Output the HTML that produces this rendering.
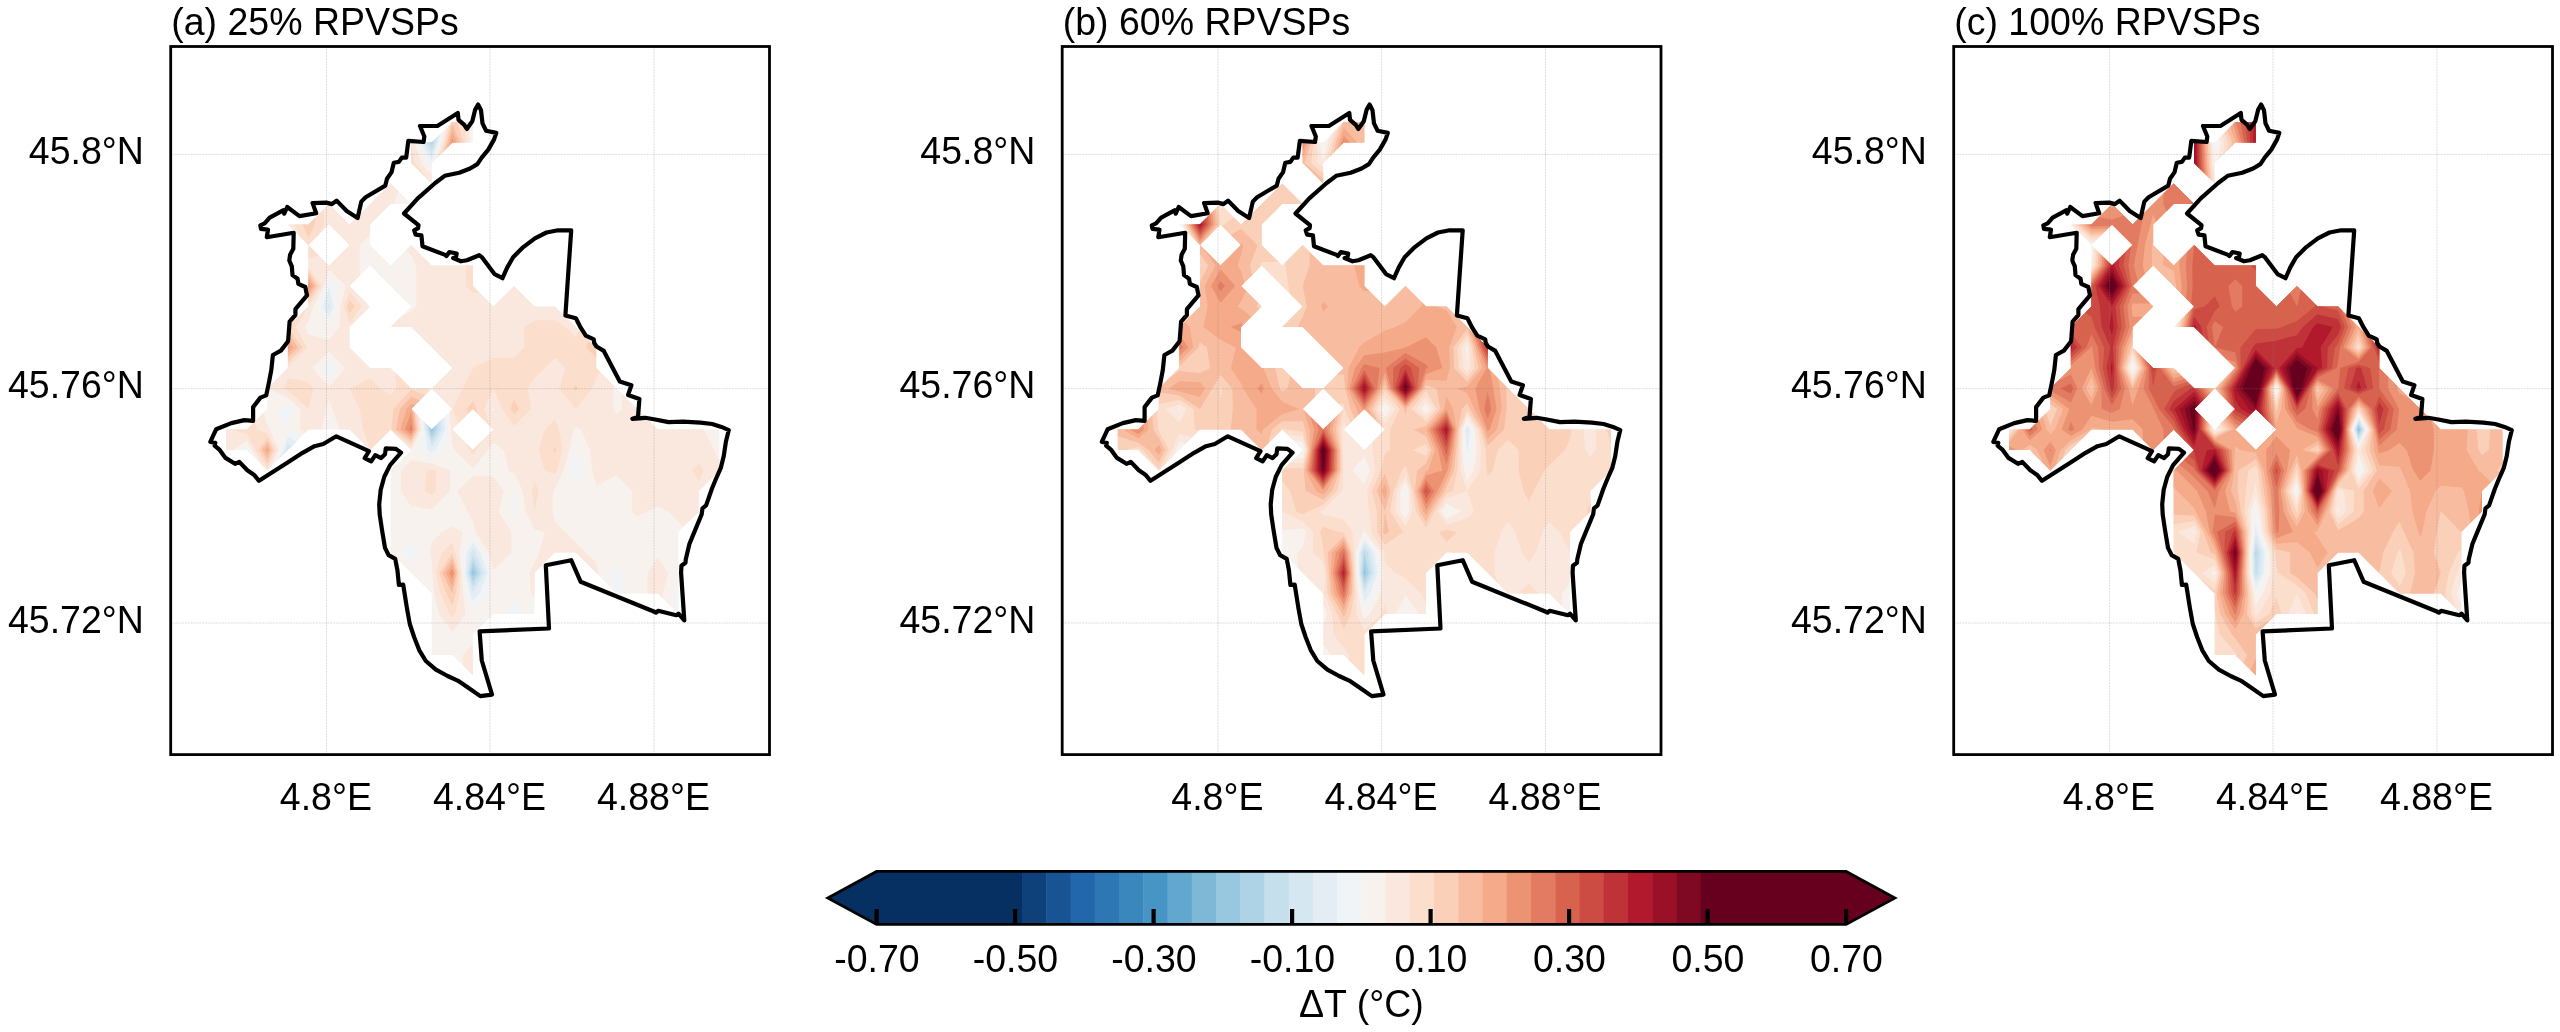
<!DOCTYPE html>
<html><head><meta charset="utf-8"><title>RPVSP temperature change</title>
<style>
html,body{margin:0;padding:0;background:#fff;}
body{width:2560px;height:1032px;position:relative;overflow:hidden;}
svg{will-change:transform;}
.t{font-family:"Liberation Sans",sans-serif;font-size:37.5px;fill:#000;}
</style></head><body>
<svg width="2560" height="1032" viewBox="0 0 2560 1032" style="position:absolute;left:0;top:0">
<rect width="2560" height="1032" fill="#fff"/>
<g shape-rendering="geometricPrecision">
<path d="M452.3 122.1L472.9 122.1L472.9 142.6L452.3 142.6L431.8 163.1L431.8 183.6L411.2 163.1L411.2 142.6L431.8 142.6ZM390.6 183.6L411.2 204.1L390.6 204.1L370.1 224.6L370.1 245.1L390.6 265.6L411.2 245.1L431.8 265.6L452.3 265.6L472.9 265.6L472.9 286.0L493.4 306.5L514.0 286.0L534.5 306.5L555.0 306.5L575.6 327.0L596.2 347.5L596.2 368.0L616.7 388.5L637.2 409.0L657.8 429.5L678.4 429.5L698.9 429.5L719.5 429.5L719.5 450.0L719.5 470.4L698.9 490.9L698.9 511.4L678.4 531.9L678.4 552.4L678.4 572.9L678.4 593.4L678.4 613.9L657.8 593.4L637.2 593.4L616.7 593.4L596.2 572.9L575.6 552.4L555.0 552.4L534.5 572.9L534.5 593.4L534.5 613.9L514.0 613.9L493.4 613.9L472.9 634.4L472.9 654.9L472.9 675.3L452.3 654.9L431.8 654.9L431.8 634.4L431.8 613.9L431.8 593.4L411.2 572.9L390.6 552.4L390.6 531.9L390.6 511.4L390.6 490.9L390.6 470.4L411.2 450.0L390.6 429.5L370.1 450.0L349.6 429.5L329.0 429.5L308.4 429.5L287.9 450.0L267.4 470.4L246.8 450.0L226.2 450.0L226.2 429.5L246.8 429.5L267.4 409.0L267.4 388.5L287.9 368.0L287.9 347.5L287.9 327.0L308.4 306.5L308.4 286.0L308.4 265.6L308.4 245.1L329.0 265.6L349.6 245.1L329.0 224.6L308.4 245.1L287.9 224.6L308.4 224.6L329.0 204.1L349.6 224.6L370.1 204.1ZM349.6 286.0L370.1 306.5L349.6 327.0L349.6 347.5L370.1 368.0L390.6 368.0L411.2 388.5L431.8 388.5L411.2 409.0L431.8 429.5L452.3 409.0L431.8 388.5L452.3 368.0L431.8 347.5L411.2 327.0L390.6 327.0L411.2 306.5L390.6 286.0L370.1 265.6ZM452.3 429.5L472.9 450.0L493.4 429.5L472.9 409.0Z" fill="#f8f2ef"/>
<path d="M452.3 122.1L470.0 122.1L469.7 142.6L452.3 142.6L436.3 158.6L442.0 142.6L445.6 128.8ZM421.5 163.1L431.8 175.6L431.8 183.6L411.2 163.1L411.2 142.6L414.3 142.6ZM390.6 183.6L398.4 191.3L394.1 204.1L390.6 204.1L370.1 224.6L370.1 234.8L359.8 245.1L359.8 265.6L359.8 275.8L349.6 286.0L365.0 301.4L369.1 306.5L366.7 309.9L349.6 327.0L349.6 347.5L370.1 368.0L390.6 368.0L411.2 388.5L431.8 388.5L411.2 409.0L419.7 417.4L421.3 429.5L411.2 449.5L409.7 448.5L390.6 429.5L370.1 450.0L349.6 429.5L339.3 429.5L332.4 409.0L329.0 398.7L326.4 409.0L321.3 429.5L308.4 429.5L305.2 432.7L299.9 429.5L300.5 409.0L287.9 397.7L269.4 388.5L270.8 385.1L287.9 368.0L287.9 347.5L287.9 327.0L308.4 306.5L308.4 286.0L308.4 265.6L308.4 245.1L329.0 265.6L349.6 245.1L329.0 224.6L308.4 245.1L287.9 224.6L308.4 224.6L329.0 204.1L349.6 224.6L370.1 204.1ZM324.1 286.0L313.2 306.5L308.4 320.9L304.6 327.0L308.4 334.7L329.0 339.8L339.3 327.0L340.3 306.5L345.7 286.0L329.0 269.4ZM312.3 368.0L329.0 387.0L345.7 368.0L329.0 351.4ZM411.2 245.1L431.8 265.6L452.3 265.6L472.9 265.6L472.9 286.0L493.4 306.5L514.0 286.0L534.5 306.5L555.0 306.5L575.6 327.0L596.2 347.5L596.2 368.0L614.6 386.4L613.3 388.5L613.3 409.0L616.7 414.1L621.8 409.0L621.8 393.6L637.2 409.0L657.8 429.5L678.4 429.5L698.9 429.5L704.0 429.5L714.3 450.0L719.5 460.2L719.5 470.4L698.9 490.9L698.9 511.4L683.5 526.8L678.4 521.7L668.1 511.4L657.8 506.3L647.5 511.4L637.2 516.6L632.1 511.4L632.1 490.9L616.7 475.6L596.2 485.8L592.3 470.4L590.0 450.0L580.7 429.5L575.6 426.9L573.5 429.5L569.1 450.0L563.5 470.5L555.0 488.9L553.0 490.9L552.5 511.4L555.0 521.7L565.3 531.9L575.6 542.2L585.9 552.4L596.2 562.7L598.2 572.9L598.2 574.9L596.2 572.9L575.6 552.4L555.0 552.4L534.5 572.9L534.5 593.4L534.5 598.5L531.1 593.4L529.4 572.9L534.5 562.7L539.6 552.4L544.8 531.9L534.5 529.4L525.5 511.4L522.9 490.9L514.0 473.0L508.8 470.4L503.7 450.0L493.4 442.3L488.3 450.0L472.9 468.4L454.4 450.0L452.3 444.8L451.1 429.5L449.6 411.6L452.3 409.0L431.8 388.5L452.3 368.0L431.8 347.5L411.2 327.0L390.6 327.0L400.9 316.8L411.2 311.7L416.3 306.5L416.3 286.0L416.3 265.6L411.2 255.3L406.1 250.2ZM492.3 409.0L493.4 412.4L494.5 409.0L493.4 406.4ZM452.3 429.5L472.9 450.0L493.4 429.5L472.9 409.0ZM267.4 424.3L269.9 429.5L278.7 450.0L270.6 467.2L267.4 470.4L260.9 464.0L251.9 450.0L246.8 440.6L232.7 450.0L226.2 450.0L226.2 429.5L246.8 429.5L263.5 412.8ZM411.2 460.2L431.8 463.4L450.2 470.4L450.2 490.9L431.8 509.4L411.2 506.3L400.9 490.9L400.9 470.4ZM472.9 475.6L493.4 476.6L503.7 490.9L498.5 511.4L511.4 531.9L511.4 552.4L493.4 570.3L488.9 552.4L475.4 531.9L472.9 521.7L467.7 511.4L457.4 490.9ZM452.3 526.8L462.6 531.9L459.3 552.4L461.9 572.9L463.1 593.4L465.5 613.9L452.3 632.3L439.1 613.9L434.3 593.4L432.2 572.9L431.8 562.7L430.0 552.4L431.8 542.2L442.0 531.9ZM657.8 557.5L668.1 572.9L662.9 593.4L662.9 598.5L657.8 593.4L647.5 593.4L647.5 572.9ZM472.9 644.6L472.9 654.9L472.9 675.3L462.6 665.1L462.6 654.9Z" fill="#fae8de"/>
<path d="M452.3 122.1L463.5 122.1L466.6 142.6L452.3 142.6L439.1 155.7L443.9 142.6L448.0 126.4ZM414.9 163.1L431.8 183.6L431.8 183.6L411.2 163.1L411.2 142.6L411.2 142.6ZM323.9 224.6L318.7 234.8L308.4 245.1L300.2 236.9L294.8 224.6L308.4 224.6L323.9 209.2ZM308.4 245.1L318.7 255.3L308.4 258.7ZM321.4 286.0L308.4 306.5L308.4 306.5L295.6 327.0L307.2 347.5L287.9 366.7L287.9 347.5L287.9 327.0L308.4 306.5L308.4 286.0L308.4 266.7ZM472.9 265.6L472.9 286.0L479.7 292.9L472.9 292.9L466.0 286.0L466.0 265.6ZM349.6 291.2L361.9 306.5L349.6 324.1L343.7 306.5ZM534.5 320.2L555.0 320.2L565.3 327.0L575.6 337.3L578.5 329.9L596.2 347.5L596.2 368.0L600.3 372.1L596.2 378.2L592.0 388.5L575.6 409.0L575.6 409.0L575.6 409.0L559.2 388.5L565.3 368.0L555.0 357.8L544.8 368.0L534.5 378.2L527.7 388.5L531.1 409.0L514.0 426.1L502.5 409.0L493.4 388.5L484.3 409.0L490.0 426.1L472.9 409.0L458.2 423.6L452.3 409.0L452.3 409.0L452.3 409.0L452.3 409.0L452.3 409.0L462.6 388.5L472.8 368.0L472.9 368.0L493.4 357.8L514.0 357.8L524.2 347.5L524.2 327.0ZM287.9 378.2L308.4 381.7L313.6 388.5L308.5 409.0L308.4 409.0L308.4 409.0L287.9 390.5L283.8 388.5ZM349.6 388.5L370.1 378.2L380.4 388.5L390.6 395.3L395.8 388.5L395.8 373.1L411.2 388.5L426.6 388.5L430.3 390.0L411.2 409.0L417.9 415.6L419.7 429.5L411.2 446.4L399.5 438.3L390.6 429.5L370.1 450.0L370.1 450.0L363.2 429.5L359.8 409.0L349.6 388.5L349.5 388.5ZM257.1 429.5L267.4 433.3L276.3 450.0L267.4 469.0L255.2 450.0L246.8 434.6L231.4 429.5L246.8 429.5L254.5 421.8ZM555.0 419.2L559.2 429.5L562.5 450.0L556.9 470.4L555.0 474.5L544.8 470.4L538.6 450.0L544.8 429.5ZM466.0 443.1L472.9 450.0L483.1 439.7L476.3 450.0L472.9 454.1L468.7 450.0ZM431.8 468.9L435.9 470.4L435.9 490.9L431.7 495.0L424.9 490.9L426.6 470.4ZM698.9 463.6L704.0 470.4L698.9 480.7L692.1 470.4ZM493.4 490.9L493.4 490.9L493.4 490.9L493.4 490.9ZM534.5 480.7L538.6 490.9L534.5 511.4L534.5 511.4L534.5 511.4L531.9 490.9ZM493.4 531.9L493.4 531.9L493.4 552.4L493.4 552.4L493.4 552.4L493.4 531.9ZM452.3 542.2L455.5 552.4L460.2 572.9L459.5 593.4L455.2 613.9L452.3 618.0L449.4 613.9L440.3 593.4L435.7 572.9L442.0 552.4Z" fill="#fcdecd"/>
<path d="M452.3 122.1L457.0 122.1L463.5 142.6L452.3 142.6L442.0 152.9L445.7 142.6L450.5 123.9ZM314.9 224.6L308.4 237.4L302.7 224.6L308.4 224.6L314.9 218.2ZM318.7 286.0L308.4 302.3L308.4 286.0L308.4 270.7ZM349.6 300.1L354.7 306.5L349.6 313.8L347.1 306.5ZM302.7 347.5L287.9 362.2L287.9 347.5L287.9 327.9ZM588.8 340.2L596.2 347.5L596.2 357.8L585.9 347.5ZM575.6 385.1L577.7 388.5L575.6 391.1L573.5 388.5ZM411.2 389.5L425.1 395.1L411.2 409.0L416.1 413.8L418.1 429.5L411.2 443.3L391.3 429.5L393.5 409.0ZM472.9 401.3L476.3 409.0L478.0 414.1L472.9 409.0L468.4 413.4L466.7 409.0ZM514.0 398.7L519.1 409.0L514.0 414.1L510.5 409.0ZM267.4 437.8L273.9 450.0L267.4 463.9L258.5 450.0ZM555.0 446.5L556.0 450.0L555.0 453.4L553.0 450.0ZM452.3 553.1L458.6 572.9L455.9 593.4L452.3 605.3L446.3 593.4L439.1 572.9Z" fill="#fbd0b9"/>
<path d="M452.3 124.2L460.3 142.6L452.3 142.6L444.9 150.0L447.6 142.6ZM316.1 286.0L308.4 298.1L308.4 286.0L308.4 274.7ZM298.2 347.5L287.9 357.8L287.9 347.5L287.9 333.8ZM411.2 396.7L420.0 400.2L411.2 409.0L414.3 412.1L416.6 429.5L411.2 440.2L395.8 429.5L400.0 409.0ZM267.4 442.3L271.5 450.0L267.4 458.7L261.7 450.0ZM452.3 558.3L457.0 572.9L452.3 593.4L452.3 593.4L452.3 593.4L442.5 572.9Z" fill="#f8bda1"/>
<path d="M452.3 131.3L457.2 142.6L452.3 142.6L447.8 147.1L449.4 142.6ZM313.4 286.0L308.4 293.9L308.4 286.0L308.4 278.6ZM293.7 347.5L287.9 353.3L287.9 347.5L287.9 339.8ZM411.2 403.9L414.9 405.3L411.2 409.0L412.5 410.3L415.0 429.5L411.2 437.0L400.3 429.5L406.5 409.0ZM267.4 446.8L269.1 450.0L267.4 453.6L265.0 450.0ZM452.3 563.4L455.3 572.9L452.3 586.2L445.9 572.9Z" fill="#f5aa89"/>
<path d="M452.3 138.5L454.1 142.6L452.3 142.6L450.7 144.2L451.2 142.6ZM310.7 286.0L308.4 289.7L308.4 286.0L308.4 282.6ZM289.2 347.5L287.9 348.8L287.9 347.5L287.9 345.8ZM411.2 412.4L413.4 429.5L411.2 433.9L404.8 429.5ZM452.3 568.5L453.7 572.9L452.3 579.0L449.4 572.9Z" fill="#ec9374"/>
<path d="M411.2 424.3L411.9 429.5L411.2 430.8L409.3 429.5Z" fill="#e27b62"/>
<path d="M440.2 142.6L433.4 161.5L431.8 163.1L431.8 167.7L428.0 163.1L417.5 142.6L431.8 142.6L443.1 131.3ZM329.0 278.4L336.7 286.0L336.8 306.5L329.0 324.7L318.0 306.5L326.7 286.0ZM329.0 360.3L336.7 368.0L329.0 376.8L321.3 368.0ZM287.9 404.9L292.5 409.0L287.9 429.5L277.6 409.0ZM421.5 419.2L431.8 429.5L447.0 414.3L448.2 429.5L444.6 450.0L431.8 457.8L418.9 450.0L422.8 429.5ZM246.8 446.5L248.7 450.0L251.9 455.1L246.8 450.0L241.7 450.0ZM287.9 429.5L300.7 437.2L287.9 450.0L275.1 462.8L281.1 450.0ZM575.6 450.0L583.3 470.4L575.6 485.8L570.0 470.4ZM514.0 490.9L516.5 511.4L514.0 516.6L510.5 511.4ZM411.2 542.2L418.1 552.4L411.2 562.7L400.9 552.4ZM472.9 537.0L484.4 552.4L490.7 572.9L488.3 593.4L472.9 611.0L466.7 593.4L463.5 572.9L463.1 552.4ZM616.7 566.1L623.5 572.9L623.5 593.4L616.7 593.4L612.6 589.3L612.6 572.9ZM678.4 586.6L678.4 593.4L678.4 613.9L674.9 610.5L674.9 593.4ZM514.0 600.2L524.2 613.9L514.0 613.9L503.7 613.9Z" fill="#f0f4f6"/>
<path d="M438.3 142.6L431.8 160.9L420.6 142.6L431.8 142.6L440.6 133.8ZM329.0 288.1L333.4 306.5L329.0 316.8L322.8 306.5ZM423.3 421.0L431.8 429.5L444.3 416.9L445.3 429.5L435.6 450.0L431.8 452.3L427.9 450.0L424.4 429.5ZM287.9 436.6L296.2 441.6L287.9 450.0L279.6 458.3L283.4 450.0ZM472.9 543.0L479.9 552.4L487.6 572.9L479.3 593.4L472.9 600.7L470.3 593.4L465.1 572.9L466.9 552.4Z" fill="#e3edf3"/>
<path d="M436.5 142.6L431.8 155.8L423.7 142.6L431.8 142.6L438.1 136.3ZM329.0 302.4L330.0 306.5L329.0 308.8L327.6 306.5ZM425.1 422.8L431.8 429.5L441.6 419.6L442.4 429.5L431.8 447.2L425.9 429.5ZM287.9 443.8L291.8 446.1L287.9 450.0L284.0 453.8L285.8 450.0ZM472.9 549.0L475.4 552.4L484.5 572.9L472.9 591.9L466.8 572.9L470.7 552.4Z" fill="#d5e7f1"/>
<path d="M434.6 142.6L431.8 150.7L426.8 142.6L431.8 142.6L435.6 138.7ZM426.9 424.6L431.8 429.5L439.0 422.3L439.6 429.5L431.8 442.4L427.5 429.5ZM472.9 555.2L481.3 572.9L472.9 586.8L468.4 572.9Z" fill="#c5dfec"/>
<path d="M432.8 142.6L431.8 145.5L430.0 142.6L431.8 142.6L433.2 141.2ZM428.7 426.4L431.8 429.5L436.3 424.9L436.7 429.5L431.8 437.7L429.1 429.5ZM472.9 561.7L478.2 572.9L472.9 581.7L470.0 572.9Z" fill="#aed3e6"/>
<path d="M430.5 428.2L431.8 429.5L433.7 427.6L433.8 429.5L431.8 432.9L430.6 429.5ZM472.9 568.2L475.1 572.9L472.9 576.6L471.7 572.9Z" fill="#98c8e0"/>
</g>
<path d="M326.5 46.5 V754.6M490.0 46.5 V754.6M654.0 46.5 V754.6M170.7 154.4 H769.5M170.7 388.7 H769.5M170.7 623.0 H769.5" stroke="#808080" stroke-opacity="0.27" stroke-width="1" stroke-dasharray="1.9 0.95" fill="none"/>
<path d="M387.0 178.7L391.6 172.1L393.8 162.7L398.9 161.9L401.8 157.6L406.2 157.6L408.3 140.9L423.6 142.0L424.3 136.5L420.0 126.0L437.4 126.0L457.8 113.0L458.5 119.8L464.3 124.9L466.8 129.0L472.3 121.2L475.2 109.6L478.1 104.5L481.0 110.3L482.5 123.4L486.1 130.7L496.3 132.9L494.1 139.4L488.3 149.6L481.7 157.6L477.4 164.1L470.1 168.5L459.2 172.8L444.7 175.8L435.2 183.0L417.8 198.3L404.0 213.5L418.5 225.2L418.1 228.1L414.2 230.3L415.6 234.6L421.4 235.3L422.5 246.2L445.1 254.9L446.5 256.0L449.4 252.0L456.7 253.5L456.0 257.4L453.1 258.1L461.0 261.3L466.9 260.3L479.2 255.2L482.1 257.4L494.5 274.1L502.5 278.2L507.3 267.4L513.1 257.2L523.3 247.1L534.9 238.3L546.5 232.5L558.1 230.3L571.2 230.3L568.3 272.5L565.4 315.4L575.9 318.3L580.7 327.7L585.8 335.7L593.8 339.4L594.2 343.0L596.5 346.5L603.8 350.9L619.8 381.4L631.4 385.3L628.1 394.9L639.4 398.9L638.0 417.0L632.4 418.8L645.2 417.8L654.0 419.2L668.5 422.1L683.0 421.7L700.5 422.6L712.1 424.0L721.5 426.9L728.8 430.1L725.9 441.7L723.7 456.3L720.8 467.9L715.7 479.5L711.9 488.7L706.1 505.4L702.5 508.3L701.7 514.2L694.5 531.6L689.4 544.0L685.8 559.2L685.5 562.8L681.4 565.8L681.1 573.0L684.3 620.3L678.5 613.7L676.3 615.2L658.1 610.8L656.0 612.6L653.8 611.5L580.6 581.7L571.2 560.2L545.8 565.3L549.0 628.5L479.6 631.4L481.8 660.5L492.0 694.6L480.3 696.1L466.5 686.5L457.7 680.6L447.6 676.0L435.9 669.7L425.8 661.0L419.2 650.1L414.1 637.0L409.8 624.0L406.9 608.0L403.2 584.7L398.9 585.0L397.4 570.0L395.2 558.8L388.7 555.2L385.0 547.9L382.1 530.5L379.7 514.5L379.2 504.3L380.7 489.8L384.3 476.7L390.1 465.1L401.0 452.7L395.9 448.8L385.8 448.3L385.0 454.2L381.1 458.1L375.3 455.2L371.2 461.4L364.7 458.1L369.0 451.2L336.3 436.3L323.3 444.0L314.5 446.2L302.6 452.8L288.0 462.3L259.0 480.8L253.9 474.7L247.3 470.3L239.3 461.9L235.0 463.8L225.5 457.9L219.7 449.9L214.6 445.6L215.3 442.7L210.3 441.9L216.1 429.3L231.3 423.1L244.4 420.1L253.1 420.9L253.1 407.1L260.4 397.6L266.2 395.4L269.1 381.6L271.3 370.0L272.9 355.0L280.9 350.6L288.1 341.2L289.6 321.6L295.4 315.0L295.4 309.2L307.0 295.4L305.3 287.0L298.3 283.8L297.6 278.7L292.5 275.1L291.8 266.3L289.3 260.5L290.1 254.7L293.3 248.8L293.7 232.8L266.8 237.2L268.0 229.7L261.0 228.8L260.3 225.3L264.6 223.4L269.7 217.6L283.1 210.3L284.2 213.7L287.2 207.0L299.5 216.1L316.2 213.2L312.6 203.1L326.4 202.6L331.9 204.1L336.6 200.6L346.7 211.0L357.6 218.0L361.3 201.6L365.6 197.2L385.3 185.6Z" fill="none" stroke="#000" stroke-width="4.2" stroke-linejoin="round"/>
<rect x="170.7" y="46.5" width="598.8" height="708.1" fill="none" stroke="#000" stroke-width="2.8"/>
<text transform="translate(171.20 35.40) scale(1 1.035)" class="t" text-anchor="start">(a) 25% RPVSPs</text>
<text transform="translate(325.90 809.60) scale(1 1.035)" class="t" text-anchor="middle">4.8°E</text>
<text transform="translate(489.40 809.60) scale(1 1.035)" class="t" text-anchor="middle">4.84°E</text>
<text transform="translate(653.40 809.60) scale(1 1.035)" class="t" text-anchor="middle">4.88°E</text>
<text transform="translate(143.90 163.90) scale(1 1.035)" class="t" text-anchor="end">45.8°N</text>
<text transform="translate(143.90 398.20) scale(1 1.035)" class="t" text-anchor="end">45.76°N</text>
<text transform="translate(143.90 632.50) scale(1 1.035)" class="t" text-anchor="end">45.72°N</text>
<g shape-rendering="geometricPrecision">
<path d="M1343.8 122.1L1364.3 122.1L1364.3 142.6L1343.8 142.6L1323.2 163.1L1323.2 183.6L1302.7 163.1L1302.7 142.6L1323.2 142.6ZM1282.2 183.6L1302.7 204.1L1282.2 204.1L1261.6 224.6L1261.6 245.1L1282.2 265.6L1302.7 245.1L1323.2 265.6L1343.8 265.6L1364.3 265.6L1364.3 286.0L1384.9 306.5L1405.5 286.0L1426.0 306.5L1446.5 306.5L1467.1 327.0L1487.7 347.5L1487.7 368.0L1508.2 388.5L1528.8 409.0L1549.3 429.5L1569.8 429.5L1590.4 429.5L1611.0 429.5L1611.0 450.0L1611.0 470.4L1590.4 490.9L1590.4 511.4L1569.8 531.9L1569.8 552.4L1569.8 572.9L1569.8 593.4L1569.8 613.9L1549.3 593.4L1528.8 593.4L1508.2 593.4L1487.7 572.9L1467.1 552.4L1446.5 552.4L1426.0 572.9L1426.0 593.4L1426.0 613.9L1405.5 613.9L1384.9 613.9L1364.3 634.4L1364.3 654.9L1364.3 675.3L1343.8 654.9L1323.2 654.9L1323.2 634.4L1323.2 613.9L1323.2 593.4L1302.7 572.9L1282.2 552.4L1282.2 531.9L1282.2 511.4L1282.2 490.9L1282.2 470.4L1302.7 450.0L1282.2 429.5L1261.6 450.0L1241.0 429.5L1220.5 429.5L1200.0 429.5L1179.4 450.0L1158.8 470.4L1138.3 450.0L1117.8 450.0L1117.8 429.5L1138.3 429.5L1158.8 409.0L1158.8 388.5L1179.4 368.0L1179.4 347.5L1179.4 327.0L1200.0 306.5L1200.0 286.0L1200.0 265.6L1200.0 245.1L1220.5 265.6L1241.0 245.1L1220.5 224.6L1200.0 245.1L1179.4 224.6L1200.0 224.6L1220.5 204.1L1241.0 224.6L1261.6 204.1ZM1241.0 286.0L1261.6 306.5L1241.0 327.0L1241.0 347.5L1261.6 368.0L1282.2 368.0L1302.7 388.5L1323.2 388.5L1302.7 409.0L1323.2 429.5L1343.8 409.0L1323.2 388.5L1343.8 368.0L1323.2 347.5L1302.7 327.0L1282.2 327.0L1302.7 306.5L1282.2 286.0L1261.6 265.6ZM1343.8 429.5L1364.3 450.0L1384.9 429.5L1364.3 409.0Z" fill="#f8f2ef"/>
<path d="M1343.8 122.1L1364.3 122.1L1364.3 142.6L1343.8 142.6L1323.2 163.1L1323.2 183.6L1302.7 163.1L1302.7 142.6L1319.1 142.6L1323.2 161.4L1327.6 142.6L1329.9 136.0ZM1282.2 183.6L1302.7 204.1L1282.2 204.1L1261.6 224.6L1261.6 245.1L1282.2 265.6L1302.7 245.1L1323.2 265.6L1343.8 265.6L1364.3 265.6L1364.3 286.0L1384.9 306.5L1405.5 286.0L1426.0 306.5L1446.5 306.5L1467.1 327.0L1487.7 347.5L1487.7 368.0L1508.2 388.5L1528.8 409.0L1549.3 429.5L1569.8 429.5L1590.4 429.5L1611.0 429.5L1611.0 450.0L1611.0 470.4L1590.4 490.9L1590.4 511.4L1569.8 531.9L1569.8 552.4L1569.8 572.9L1569.8 583.1L1562.1 593.4L1562.1 606.2L1549.3 593.4L1528.8 593.4L1508.2 593.4L1487.7 572.9L1467.1 552.4L1446.5 552.4L1426.0 572.9L1426.0 593.4L1426.0 613.9L1418.7 613.9L1405.5 595.4L1395.2 613.9L1384.9 613.9L1364.3 634.4L1364.3 654.9L1364.3 675.3L1343.8 654.9L1331.0 654.9L1323.2 644.6L1323.2 634.4L1323.2 626.7L1326.9 613.9L1323.2 603.6L1323.2 593.4L1302.7 572.9L1297.6 567.8L1297.6 552.4L1302.7 547.3L1305.8 531.9L1302.7 528.8L1282.2 529.4L1282.2 511.4L1282.2 490.9L1282.2 470.4L1294.6 458.0L1302.7 458.0L1304.7 450.0L1302.7 441.9L1293.3 440.6L1282.2 429.5L1261.6 450.0L1241.0 429.5L1220.5 429.5L1200.0 429.5L1185.9 443.4L1179.4 442.0L1175.8 450.0L1172.2 457.1L1158.8 470.4L1138.3 450.0L1117.8 450.0L1117.8 429.5L1138.3 429.5L1158.8 409.0L1158.8 388.5L1179.4 368.0L1179.4 347.5L1179.4 327.0L1200.0 306.5L1200.0 286.0L1200.0 265.6L1200.0 245.1L1220.5 265.6L1241.0 245.1L1220.5 224.6L1200.0 245.1L1185.3 230.5L1182.0 224.6L1200.0 224.6L1220.5 204.1L1241.0 224.6L1261.6 204.1ZM1241.0 286.0L1261.6 306.5L1241.0 327.0L1241.0 347.5L1261.6 368.0L1282.2 368.0L1302.7 388.5L1323.2 388.5L1302.7 409.0L1323.2 429.5L1343.8 409.0L1323.2 388.5L1343.8 368.0L1323.2 347.5L1302.7 327.0L1282.2 327.0L1302.7 306.5L1282.2 286.0L1261.6 265.6ZM1465.4 347.5L1467.1 362.9L1468.0 347.5L1467.1 345.1ZM1177.7 409.0L1179.4 410.7L1180.3 409.0L1179.4 408.4ZM1380.9 409.0L1384.9 417.4L1390.7 409.0L1384.9 401.9ZM1421.2 409.0L1426.0 413.2L1429.6 409.0L1426.0 403.0ZM1343.8 429.5L1364.3 450.0L1384.9 429.5L1364.3 409.0ZM1462.4 429.5L1462.6 450.0L1463.8 470.5L1467.1 480.7L1473.6 470.4L1476.7 450.0L1475.0 429.5L1467.1 417.7ZM1352.4 470.4L1364.3 484.8L1369.9 470.4L1364.3 456.1ZM1400.3 490.9L1400.3 511.4L1405.5 518.6L1409.0 511.4L1408.7 490.9L1405.5 481.5ZM1441.4 511.4L1446.5 519.5L1460.7 511.4L1446.5 503.4ZM1362.9 531.9L1355.8 552.4L1356.3 572.9L1358.2 593.4L1362.0 613.9L1364.3 619.0L1369.5 613.9L1380.9 593.4L1382.9 572.9L1380.7 552.4L1365.2 531.9L1364.3 526.8Z" fill="#fae8de"/>
<path d="M1343.8 122.1L1364.3 122.1L1364.3 142.6L1343.8 142.6L1326.3 160.0L1330.4 142.6L1334.1 131.8ZM1317.6 163.1L1323.2 167.8L1323.2 183.6L1302.7 163.1L1302.7 142.6L1316.4 142.6ZM1282.2 183.6L1302.7 204.1L1282.2 204.1L1261.6 224.6L1261.6 245.1L1282.2 265.6L1302.7 245.1L1323.2 265.6L1343.8 265.6L1364.3 265.6L1364.3 286.0L1384.9 306.5L1405.5 286.0L1426.0 306.5L1446.5 306.5L1467.1 327.0L1487.7 347.5L1487.7 368.0L1508.2 388.5L1528.8 409.0L1549.3 429.5L1569.8 429.5L1583.6 429.5L1585.3 450.0L1590.4 456.8L1595.5 450.0L1596.3 429.5L1611.0 429.5L1611.0 450.0L1611.0 470.4L1590.4 490.9L1590.4 511.4L1569.8 531.9L1569.8 552.4L1569.8 552.4L1569.8 552.4L1559.6 531.9L1549.3 521.7L1542.5 531.9L1535.6 552.4L1528.8 562.7L1521.9 552.4L1515.0 531.9L1508.2 521.7L1501.4 531.9L1494.5 552.4L1494.5 572.9L1497.9 583.1L1487.7 572.9L1467.1 552.4L1446.5 552.4L1426.0 572.9L1426.0 593.4L1426.0 603.6L1420.9 593.4L1405.5 578.0L1395.2 572.9L1384.9 562.7L1384.0 552.4L1371.2 531.9L1368.9 511.4L1367.1 490.9L1375.4 470.5L1372.6 450.0L1372.6 441.8L1384.9 429.5L1364.3 409.0L1346.2 427.1L1343.8 421.3L1342.0 429.5L1343.0 450.0L1343.3 470.4L1342.3 490.9L1323.2 510.0L1319.8 511.4L1323.2 514.8L1343.8 519.6L1352.6 531.9L1354.1 552.4L1355.1 572.9L1356.1 593.4L1356.4 613.9L1364.3 631.0L1381.5 613.9L1384.9 603.6L1387.2 613.9L1384.9 613.9L1364.3 634.4L1364.3 654.9L1364.3 675.3L1348.9 660.0L1348.9 654.9L1343.8 648.0L1333.5 634.4L1332.1 613.9L1324.2 593.4L1325.0 572.9L1323.2 562.7L1313.0 552.4L1313.0 531.9L1302.7 521.7L1282.2 511.4L1282.2 511.4L1282.2 490.9L1282.2 470.4L1289.5 463.1L1302.7 463.1L1306.0 450.0L1302.7 436.8L1287.3 434.6L1282.2 429.5L1261.6 450.0L1241.0 429.5L1220.5 429.5L1200.0 429.5L1192.5 436.9L1179.4 434.0L1172.2 450.0L1165.0 464.3L1158.8 470.4L1138.3 450.0L1117.8 450.0L1117.8 429.5L1138.3 429.5L1158.8 409.0L1158.8 388.5L1179.4 368.0L1179.4 347.5L1179.4 327.0L1200.0 306.5L1200.0 286.0L1200.0 265.6L1200.0 245.1L1220.5 265.6L1241.0 245.1L1220.5 224.6L1200.0 245.1L1189.1 234.3L1183.6 224.6L1200.0 224.6L1219.9 204.6L1220.5 209.2L1223.4 207.0L1241.0 224.6L1261.6 204.1ZM1241.0 286.0L1261.6 306.5L1241.0 327.0L1241.0 347.5L1261.6 368.0L1282.2 368.0L1302.7 388.5L1323.2 388.5L1302.7 409.0L1323.2 429.5L1343.8 409.0L1323.2 388.5L1343.8 368.0L1323.2 347.5L1302.7 327.0L1282.2 327.0L1302.7 306.5L1282.2 286.0L1261.6 265.6ZM1461.4 347.5L1463.2 368.0L1467.1 372.1L1470.5 368.0L1470.0 347.5L1467.1 339.6ZM1165.7 409.0L1179.4 422.6L1186.9 409.0L1179.4 404.2ZM1377.8 409.0L1384.9 423.9L1395.2 409.0L1384.9 396.4ZM1416.4 409.0L1426.0 417.4L1433.2 409.0L1426.0 397.0ZM1460.9 429.5L1460.5 450.0L1460.6 470.4L1467.1 490.9L1480.2 470.4L1481.2 450.0L1477.4 429.5L1467.1 414.1ZM1397.0 490.9L1395.2 511.4L1405.5 525.8L1412.6 511.4L1410.7 490.9L1405.5 475.6ZM1438.1 511.4L1446.5 524.6L1467.1 518.3L1474.0 511.4L1467.1 490.9L1446.5 498.3ZM1528.8 583.1L1539.0 593.4L1528.8 593.4L1518.5 593.4Z" fill="#fcdecd"/>
<path d="M1343.8 122.1L1364.3 122.1L1364.3 142.6L1343.8 142.6L1329.9 156.4L1333.1 142.6L1338.4 127.5ZM1311.1 163.1L1323.2 173.3L1323.2 183.6L1302.7 163.1L1302.7 142.6L1313.7 142.6ZM1282.2 183.6L1302.7 204.1L1282.2 204.1L1261.6 224.6L1261.6 245.1L1278.7 262.1L1261.6 262.1L1260.1 265.6L1260.5 266.7L1241.0 286.0L1261.6 306.5L1241.0 327.0L1241.0 347.5L1261.6 368.0L1282.2 368.0L1302.7 388.5L1323.2 388.5L1302.7 409.0L1323.2 429.5L1343.2 409.5L1338.9 429.5L1341.5 450.0L1341.7 470.4L1337.2 490.9L1323.2 504.8L1307.8 511.4L1302.7 514.5L1296.5 511.4L1289.9 490.9L1282.2 480.7L1282.2 470.4L1284.4 468.3L1302.7 468.3L1307.3 450.0L1302.7 431.7L1287.3 429.5L1282.2 428.4L1280.9 429.5L1280.4 431.2L1261.6 450.0L1241.0 429.5L1220.5 429.5L1200.0 429.5L1199.0 430.4L1194.8 429.5L1193.4 409.0L1179.4 399.9L1158.8 403.9L1158.8 388.5L1179.4 368.0L1179.4 347.5L1179.4 327.0L1200.0 306.5L1200.0 286.0L1200.0 267.6L1201.0 265.6L1200.0 264.1L1200.0 245.1L1220.5 265.6L1241.0 245.1L1221.8 225.9L1223.9 224.6L1233.7 217.3L1241.0 224.6L1261.6 204.1ZM1219.5 388.5L1220.5 398.7L1222.0 388.5L1220.5 386.8ZM1220.2 224.6L1219.0 226.0L1200.0 245.1L1192.9 238.1L1185.2 224.6L1200.0 224.6L1217.9 206.6ZM1302.7 245.1L1323.2 265.6L1343.8 265.6L1364.3 265.6L1364.3 286.0L1384.9 306.5L1405.5 286.0L1426.0 306.5L1446.5 306.5L1467.1 327.0L1487.7 347.5L1487.7 368.0L1508.2 388.5L1528.8 409.0L1549.3 429.5L1569.8 429.5L1571.6 429.5L1569.8 439.7L1564.7 450.0L1549.3 465.3L1544.2 470.5L1533.9 490.9L1528.8 501.2L1523.6 490.9L1518.5 470.4L1518.5 450.0L1508.2 439.7L1497.9 450.0L1492.8 470.4L1487.7 475.6L1486.7 470.4L1485.7 450.0L1479.8 429.5L1467.1 410.5L1459.5 429.5L1458.3 450.0L1457.3 470.4L1452.7 490.9L1446.5 493.1L1434.9 511.4L1426.0 527.7L1416.2 511.4L1412.8 490.9L1406.9 470.5L1405.5 465.3L1402.0 470.4L1393.8 490.9L1390.0 511.4L1403.4 531.9L1384.9 545.1L1377.2 531.9L1376.9 511.4L1371.9 490.9L1380.9 470.4L1384.9 453.4L1390.0 450.0L1390.0 429.5L1399.7 409.0L1384.9 390.9L1374.6 409.0L1384.0 428.6L1364.3 409.0L1350.4 422.8L1344.7 409.0L1343.8 403.9L1338.7 403.9L1323.2 388.5L1343.8 368.0L1323.2 347.5L1302.7 327.0L1282.2 327.0L1302.7 306.5L1289.9 293.7L1288.3 286.0L1285.6 265.6L1285.6 262.1ZM1457.4 347.5L1458.8 368.0L1467.1 376.9L1474.5 368.0L1472.0 347.5L1467.1 334.1ZM1411.6 409.0L1426.0 421.6L1436.8 409.0L1426.0 391.1ZM1413.2 450.0L1426.0 455.7L1428.3 450.0L1426.0 444.3ZM1158.2 429.5L1158.8 430.5L1168.6 450.0L1158.8 469.4L1142.6 450.0L1138.3 446.9L1125.5 450.0L1117.8 450.0L1117.8 429.5L1138.3 429.5L1156.9 410.9ZM1611.0 429.5L1611.0 444.8L1606.5 429.5ZM1590.4 501.2L1590.4 511.4L1587.0 514.8L1587.0 511.4ZM1323.2 526.8L1338.7 531.9L1343.8 532.5L1352.4 552.4L1353.9 572.9L1354.1 593.4L1350.9 613.9L1343.8 629.2L1337.2 613.9L1327.5 593.4L1327.0 572.9L1323.8 552.4L1323.2 547.3L1320.2 531.9ZM1446.5 529.7L1456.8 531.9L1446.5 542.2L1438.8 531.9Z" fill="#fbd0b9"/>
<path d="M1343.8 122.1L1364.3 122.1L1364.3 142.6L1343.8 142.6L1333.5 152.9L1335.9 142.6L1342.6 123.3ZM1304.6 163.1L1323.2 178.9L1323.2 183.6L1302.7 163.1L1302.7 142.6L1311.1 142.6ZM1217.9 224.6L1208.8 236.3L1200.0 245.1L1196.7 241.8L1186.9 224.6L1200.0 224.6L1215.9 208.6ZM1241.0 228.7L1257.5 245.1L1249.9 265.6L1252.5 274.7L1241.0 286.0L1258.2 303.1L1256.5 306.5L1259.3 308.8L1241.0 327.0L1241.0 347.5L1261.6 368.0L1275.3 368.0L1279.9 388.5L1282.2 391.4L1287.3 388.5L1290.4 376.2L1302.7 388.5L1315.0 388.5L1315.0 396.7L1302.7 409.0L1323.2 429.5L1339.2 413.5L1335.8 429.5L1340.0 450.0L1340.1 470.4L1332.1 490.9L1323.2 499.7L1305.6 490.9L1303.8 470.4L1308.6 450.0L1305.3 429.5L1302.7 421.3L1282.2 421.3L1271.9 429.5L1268.5 443.1L1261.6 450.0L1241.0 429.5L1230.8 429.5L1232.8 409.0L1232.2 388.5L1220.5 374.8L1212.3 388.5L1200.0 409.0L1200.0 409.0L1200.0 409.0L1179.4 395.7L1158.8 391.9L1158.8 388.5L1169.1 378.2L1179.4 370.9L1200.0 373.1L1210.2 368.0L1206.8 347.5L1200.0 342.4L1198.5 347.5L1179.4 366.5L1179.4 347.5L1179.4 327.0L1200.0 306.5L1200.0 286.0L1200.0 281.9L1208.2 265.6L1199.9 253.8L1200.0 245.1L1220.5 265.6L1241.0 245.1L1230.8 234.8ZM1309.5 251.9L1323.2 265.6L1343.8 265.6L1364.3 265.6L1364.3 286.0L1384.9 306.5L1405.5 286.0L1426.0 306.5L1446.5 306.5L1467.1 327.0L1487.7 347.5L1487.7 368.0L1505.9 386.2L1506.3 388.5L1506.7 409.0L1504.1 429.5L1487.7 445.9L1482.2 429.5L1469.8 409.0L1467.1 403.1L1462.0 409.0L1458.1 429.5L1456.2 450.0L1454.0 470.4L1446.5 486.8L1444.6 490.9L1431.6 511.4L1426.0 521.7L1419.8 511.4L1414.8 490.9L1417.2 470.4L1426.0 463.6L1431.6 450.0L1426.0 436.3L1413.7 429.5L1426.0 425.9L1440.4 409.0L1436.3 388.5L1426.0 385.3L1425.0 388.5L1406.8 409.0L1405.5 415.8L1404.2 409.0L1385.9 388.5L1384.9 385.1L1383.6 388.5L1371.5 409.0L1378.0 422.6L1364.3 409.0L1354.7 418.6L1350.7 409.0L1345.1 388.5L1343.8 374.8L1337.0 374.8L1343.8 368.0L1323.2 347.5L1302.7 327.0L1297.6 327.0L1302.7 316.8L1306.8 306.5L1302.7 286.0L1302.7 286.0L1302.7 286.0L1309.5 265.6ZM1453.4 347.5L1454.3 368.0L1467.1 381.7L1478.5 368.0L1474.0 347.5L1467.1 328.6ZM1153.4 429.5L1158.8 437.7L1165.0 450.0L1158.8 462.3L1148.6 450.0L1138.3 442.7L1117.8 436.3L1117.8 429.5L1138.3 429.5L1152.4 415.4ZM1384.9 473.4L1390.5 490.9L1384.9 511.4L1389.0 531.9L1384.9 534.8L1383.2 531.9L1384.9 511.4L1376.7 490.9ZM1343.8 536.5L1350.7 552.4L1352.7 572.9L1352.0 593.4L1345.4 613.9L1343.8 617.3L1342.3 613.9L1330.7 593.4L1329.0 572.9L1327.8 552.4Z" fill="#f8bda1"/>
<path d="M1343.8 127.8L1357.2 142.6L1343.8 142.6L1337.1 149.3L1338.7 142.6ZM1302.7 158.0L1302.7 142.6L1308.4 142.6ZM1215.7 224.6L1200.0 244.7L1188.5 224.6L1200.0 224.6L1213.9 210.6ZM1241.0 243.0L1243.1 245.1L1241.0 255.3L1237.6 265.6L1241.0 270.7L1244.5 282.6L1241.0 286.0L1246.2 291.2L1241.0 301.4L1237.6 306.5L1241.0 308.6L1251.3 316.8L1241.0 327.0L1241.0 347.5L1261.6 368.0L1263.3 368.0L1271.9 388.5L1282.2 401.7L1299.3 409.0L1282.2 414.1L1262.9 429.5L1261.6 434.6L1256.5 429.5L1256.5 409.0L1243.1 388.5L1241.0 383.4L1230.8 368.0L1235.9 347.5L1220.5 339.8L1203.4 327.0L1207.7 306.5L1204.6 286.0L1215.4 265.6L1203.4 248.5L1220.5 265.6L1241.0 245.1L1239.8 243.8ZM1364.3 265.6L1364.3 286.0L1369.5 291.2L1364.3 291.2L1359.2 286.0L1354.1 265.6ZM1323.2 301.4L1328.4 306.5L1323.2 311.7L1321.2 306.5ZM1422.6 303.1L1426.0 306.5L1436.3 306.5L1446.5 309.9L1456.8 327.0L1449.4 347.5L1449.8 368.0L1446.5 380.8L1426.0 379.8L1423.2 388.5L1405.5 407.6L1387.7 388.5L1384.9 379.1L1381.4 388.5L1368.4 409.0L1372.1 416.7L1364.3 409.0L1358.9 414.4L1356.6 409.0L1347.3 388.5L1348.5 368.0L1359.2 347.5L1364.3 342.4L1384.9 330.4L1395.2 327.0L1405.5 321.9L1420.9 306.5ZM1189.7 327.0L1193.3 347.5L1179.4 361.4L1179.4 347.5L1179.4 327.0L1184.5 321.9ZM1469.3 329.2L1487.7 347.5L1487.7 368.0L1497.9 378.2L1499.8 388.5L1501.6 409.0L1496.9 429.5L1487.7 438.7L1484.6 429.5L1474.6 409.0L1467.1 392.9L1456.8 388.5L1467.1 386.4L1482.5 368.0L1475.9 347.5ZM1179.4 381.2L1200.0 382.1L1205.1 388.5L1200.0 397.0L1179.4 391.5L1169.1 388.5ZM1446.5 396.2L1453.0 409.0L1456.6 429.5L1454.1 450.0L1450.8 470.4L1446.5 479.7L1441.2 490.9L1428.3 511.4L1426.0 515.7L1423.4 511.4L1416.9 490.9L1426.0 471.1L1428.1 470.4L1434.9 450.0L1426.4 429.5L1444.0 409.0ZM1148.6 429.5L1138.3 438.5L1122.9 429.5L1138.3 429.5L1147.9 419.9ZM1303.6 409.9L1323.2 429.5L1335.2 417.5L1332.6 429.5L1338.6 450.0L1338.4 470.4L1326.9 490.9L1323.2 494.6L1315.9 490.9L1305.7 470.4L1309.9 450.0L1309.8 429.5ZM1158.8 444.8L1161.4 450.0L1158.8 455.1L1154.6 450.0ZM1384.9 483.6L1387.2 490.9L1384.9 499.5L1381.5 490.9ZM1343.8 540.5L1348.9 552.4L1351.5 572.9L1350.0 593.4L1343.8 609.9L1334.0 593.4L1331.0 572.9L1331.8 552.4Z" fill="#f5aa89"/>
<path d="M1343.8 135.8L1350.0 142.6L1343.8 142.6L1340.7 145.7L1341.4 142.6ZM1302.7 150.8L1302.7 142.6L1305.7 142.6ZM1213.4 224.6L1200.0 241.8L1190.1 224.6L1200.0 224.6L1211.9 212.6ZM1220.5 269.0L1235.2 286.0L1220.5 303.1L1211.2 286.0ZM1241.0 322.9L1243.3 324.7L1241.0 327.0L1241.0 332.1L1230.8 327.0ZM1188.2 347.5L1179.4 356.3L1179.4 347.5L1179.4 333.8ZM1405.5 347.5L1426.0 337.3L1436.3 347.5L1442.4 368.0L1426.0 374.3L1421.4 388.5L1405.5 405.7L1389.5 388.5L1384.9 373.1L1379.1 388.5L1365.2 409.0L1366.1 410.7L1364.3 409.0L1363.1 410.2L1362.6 409.0L1349.6 388.5L1355.0 368.0L1364.3 355.2L1384.9 352.6L1405.4 347.5ZM1472.5 332.4L1487.7 347.5L1487.7 368.0L1489.9 370.3L1493.3 388.5L1496.5 409.0L1489.7 429.5L1487.7 431.5L1487.0 429.5L1479.4 409.0L1475.3 388.5L1486.5 368.0L1477.9 347.5ZM1261.6 383.4L1263.9 388.5L1261.6 393.6L1257.5 388.5ZM1143.8 429.5L1138.3 434.3L1130.1 429.5L1138.3 429.5L1143.4 424.3ZM1310.2 416.4L1323.2 429.5L1331.2 421.5L1329.5 429.5L1337.1 450.0L1336.8 470.5L1323.2 490.3L1307.6 470.4L1311.1 450.0L1314.3 429.5ZM1446.5 409.9L1455.2 429.5L1452.0 450.0L1447.5 470.4L1446.5 472.5L1437.7 490.9L1426.0 509.9L1419.0 490.9L1426.0 475.6L1442.4 470.4L1438.1 450.0L1429.3 429.5ZM1343.8 544.4L1347.2 552.4L1350.3 572.9L1347.9 593.4L1343.8 604.4L1337.3 593.4L1333.0 572.9L1335.8 552.4Z" fill="#ec9374"/>
<path d="M1302.7 143.6L1302.7 142.6L1303.1 142.6ZM1211.2 224.6L1200.0 238.9L1191.8 224.6L1200.0 224.6L1209.9 214.6ZM1220.5 280.9L1224.9 286.0L1220.5 291.2L1217.7 286.0ZM1183.1 347.5L1179.4 351.2L1179.4 347.5L1179.4 341.8ZM1475.6 335.5L1487.7 347.5L1487.7 364.8L1479.9 347.5ZM1364.3 364.2L1379.8 368.0L1376.9 388.5L1364.3 406.7L1351.8 388.5L1361.5 368.0ZM1405.5 353.0L1426.0 364.6L1428.1 368.0L1426.0 368.8L1419.6 388.5L1405.5 403.7L1391.3 388.5L1385.9 368.0ZM1487.7 391.9L1491.3 409.0L1487.7 419.2L1484.2 409.0ZM1139.0 429.5L1138.3 430.1L1137.3 429.5L1138.3 429.5L1138.9 428.8ZM1316.7 423.0L1323.2 429.5L1327.2 425.5L1326.4 429.5L1335.6 450.0L1335.2 470.4L1323.2 487.9L1309.5 470.4L1312.4 450.0L1318.8 429.5ZM1446.5 413.2L1453.7 429.5L1449.9 450.0L1446.5 464.0L1441.4 450.0L1432.2 429.5ZM1426.0 480.1L1434.3 490.9L1426.0 504.3L1421.0 490.9ZM1343.8 548.4L1345.5 552.4L1349.1 572.9L1345.9 593.4L1343.8 598.9L1340.5 593.4L1335.0 572.9L1339.8 552.4Z" fill="#e27b62"/>
<path d="M1208.9 224.6L1200.0 236.0L1193.4 224.6L1200.0 224.6L1207.9 216.6ZM1478.7 338.6L1487.7 347.5L1487.7 360.3L1481.9 347.5ZM1405.5 358.5L1419.2 368.0L1417.8 388.5L1405.5 401.8L1393.1 388.5L1393.1 368.0ZM1364.3 370.3L1374.6 388.5L1364.3 403.4L1354.1 388.5ZM1323.2 429.5L1323.2 429.5L1323.2 429.5L1323.2 429.5L1334.2 450.0L1333.5 470.4L1323.2 485.5L1311.4 470.5L1313.7 450.0L1323.2 429.5ZM1446.5 416.4L1452.3 429.5L1447.8 450.0L1446.5 455.1L1444.7 450.0L1435.0 429.5ZM1426.0 484.5L1430.9 490.9L1426.0 498.8L1423.1 490.9ZM1343.8 552.4L1343.8 552.4L1347.9 572.9L1343.8 593.4L1343.8 593.4L1343.8 593.4L1337.0 572.9L1343.8 552.4Z" fill="#d7634f"/>
<path d="M1206.7 224.6L1200.0 233.2L1195.0 224.6L1200.0 224.6L1205.9 218.6ZM1481.8 341.7L1487.7 347.5L1487.7 355.8L1483.9 347.5ZM1405.5 364.1L1411.2 368.0L1416.0 388.5L1405.5 399.8L1394.9 388.5L1400.3 368.0ZM1364.3 374.3L1372.4 388.5L1364.3 400.1L1356.3 388.5ZM1446.5 419.7L1450.9 429.5L1446.5 447.4L1437.9 429.5ZM1323.2 432.2L1332.7 450.0L1331.9 470.4L1323.2 483.1L1313.2 470.5L1315.0 450.0ZM1426.0 489.0L1427.5 490.9L1426.0 493.3L1425.1 490.9ZM1343.8 558.4L1346.7 572.9L1343.8 587.4L1338.9 572.9Z" fill="#cc4c44"/>
<path d="M1204.4 224.6L1200.0 230.3L1196.7 224.6L1200.0 224.6L1203.9 220.6ZM1485.0 344.8L1487.7 347.5L1487.7 351.4L1485.9 347.5ZM1364.3 378.2L1370.1 388.5L1364.3 396.9L1358.6 388.5ZM1405.5 369.1L1414.2 388.5L1405.5 397.9L1396.7 388.5ZM1446.5 423.0L1449.4 429.5L1446.5 441.4L1440.8 429.5ZM1323.2 435.0L1331.2 450.0L1330.3 470.4L1323.2 480.7L1315.1 470.4L1316.3 450.0ZM1343.8 564.4L1345.5 572.9L1343.8 581.4L1340.9 572.9Z" fill="#bf3338"/>
<path d="M1202.2 224.6L1200.0 227.4L1198.3 224.6L1200.0 224.6L1201.9 222.6ZM1364.3 382.2L1367.9 388.5L1364.4 393.6L1360.8 388.5ZM1405.5 373.1L1412.4 388.5L1405.5 396.0L1398.5 388.5ZM1446.5 426.2L1448.0 429.5L1446.5 435.4L1443.7 429.5ZM1323.2 437.7L1329.8 450.0L1328.6 470.4L1323.2 478.3L1317.0 470.4L1317.6 450.0ZM1343.8 570.3L1344.3 572.9L1343.8 575.5L1342.9 572.9Z" fill="#b3192c"/>
<path d="M1200.0 224.6L1200.0 224.6L1200.0 224.6L1200.0 224.6L1200.0 224.6ZM1364.3 386.2L1365.6 388.5L1364.3 390.4L1363.1 388.5ZM1405.5 377.1L1410.6 388.5L1405.5 394.0L1400.3 388.5ZM1446.5 429.5L1446.5 429.5L1446.5 429.5L1446.5 429.5ZM1323.2 440.5L1328.3 450.0L1327.0 470.4L1323.2 475.9L1318.9 470.4L1318.8 450.0Z" fill="#991027"/>
<path d="M1405.5 381.1L1408.8 388.5L1405.5 392.1L1402.1 388.5ZM1323.2 443.3L1326.8 450.0L1325.4 470.4L1323.2 473.5L1320.8 470.4L1320.1 450.0Z" fill="#7f0823"/>
<path d="M1405.5 385.1L1407.0 388.5L1405.5 390.2L1403.9 388.5ZM1323.2 446.0L1325.3 450.0L1323.7 470.4L1323.2 471.1L1322.7 470.5L1321.4 450.0Z" fill="#67001f"/>
<path d="M1324.8 142.6L1323.2 149.4L1321.7 142.6L1323.2 142.6L1325.7 140.2ZM1181.6 226.7L1179.4 224.6L1180.3 224.6ZM1384.9 407.4L1386.2 409.0L1384.9 410.8L1384.0 409.0ZM1467.1 421.3L1472.6 429.5L1472.2 450.0L1467.1 470.4L1464.7 450.0L1463.8 429.5ZM1302.7 447.0L1303.4 450.0L1302.7 452.9L1299.8 452.9L1302.7 450.0L1299.3 446.5ZM1405.5 487.5L1406.6 490.9L1405.5 511.4L1403.6 490.9ZM1446.5 508.5L1451.7 511.4L1446.5 514.4L1444.7 511.4ZM1364.3 535.5L1377.4 552.4L1380.2 572.9L1375.4 593.4L1364.3 609.3L1360.2 593.4L1357.5 572.9L1357.5 552.4ZM1405.5 609.8L1408.4 613.9L1405.5 613.9L1403.2 613.9Z" fill="#f0f4f6"/>
<path d="M1467.1 424.9L1470.2 429.5L1467.7 450.0L1467.1 452.5L1466.8 450.0L1465.3 429.5ZM1364.3 539.8L1374.2 552.4L1377.4 572.9L1369.9 593.4L1364.3 601.4L1362.3 593.4L1358.7 572.9L1359.2 552.4Z" fill="#e3edf3"/>
<path d="M1467.1 428.4L1467.8 429.5L1467.1 434.6L1466.7 429.5ZM1364.4 544.0L1370.9 552.4L1374.6 572.9L1364.3 593.4L1359.9 572.9L1360.9 552.4Z" fill="#d5e7f1"/>
<path d="M1364.3 548.2L1367.6 552.4L1371.9 572.9L1364.3 587.9L1361.1 572.9L1362.6 552.4Z" fill="#c5dfec"/>
<path d="M1364.3 552.4L1364.3 552.4L1369.1 572.9L1364.3 582.4L1362.3 572.9L1364.3 552.4Z" fill="#aed3e6"/>
<path d="M1364.3 564.4L1366.3 572.9L1364.3 576.8L1363.5 572.9Z" fill="#98c8e0"/>
</g>
<path d="M1218.0 46.5 V754.6M1381.5 46.5 V754.6M1545.5 46.5 V754.6M1062.2 154.4 H1661.0M1062.2 388.7 H1661.0M1062.2 623.0 H1661.0" stroke="#808080" stroke-opacity="0.27" stroke-width="1" stroke-dasharray="1.9 0.95" fill="none"/>
<path d="M1278.5 178.7L1283.1 172.1L1285.3 162.7L1290.4 161.9L1293.3 157.6L1297.7 157.6L1299.8 140.9L1315.1 142.0L1315.8 136.5L1311.5 126.0L1328.9 126.0L1349.3 113.0L1350.0 119.8L1355.8 124.9L1358.3 129.0L1363.8 121.2L1366.7 109.6L1369.6 104.5L1372.5 110.3L1374.0 123.4L1377.6 130.7L1387.8 132.9L1385.6 139.4L1379.8 149.6L1373.2 157.6L1368.9 164.1L1361.6 168.5L1350.7 172.8L1336.2 175.8L1326.7 183.0L1309.3 198.3L1295.5 213.5L1310.0 225.2L1309.6 228.1L1305.7 230.3L1307.1 234.6L1312.9 235.3L1314.0 246.2L1336.6 254.9L1338.0 256.0L1340.9 252.0L1348.2 253.5L1347.5 257.4L1344.6 258.1L1352.5 261.3L1358.4 260.3L1370.7 255.2L1373.6 257.4L1386.0 274.1L1394.0 278.2L1398.8 267.4L1404.6 257.2L1414.8 247.1L1426.4 238.3L1438.0 232.5L1449.6 230.3L1462.7 230.3L1459.8 272.5L1456.9 315.4L1467.4 318.3L1472.2 327.7L1477.3 335.7L1485.3 339.4L1485.7 343.0L1488.0 346.5L1495.3 350.9L1511.3 381.4L1522.9 385.3L1519.6 394.9L1530.9 398.9L1529.5 417.0L1523.9 418.8L1536.7 417.8L1545.5 419.2L1560.0 422.1L1574.5 421.7L1592.0 422.6L1603.6 424.0L1613.0 426.9L1620.3 430.1L1617.4 441.7L1615.2 456.3L1612.3 467.9L1607.2 479.5L1603.4 488.7L1597.6 505.4L1594.0 508.3L1593.2 514.2L1586.0 531.6L1580.9 544.0L1577.3 559.2L1577.0 562.8L1572.9 565.8L1572.6 573.0L1575.8 620.3L1570.0 613.7L1567.8 615.2L1549.6 610.8L1547.5 612.6L1545.3 611.5L1472.1 581.7L1462.7 560.2L1437.3 565.3L1440.5 628.5L1371.1 631.4L1373.3 660.5L1383.5 694.6L1371.8 696.1L1358.0 686.5L1349.2 680.6L1339.1 676.0L1327.4 669.7L1317.3 661.0L1310.7 650.1L1305.6 637.0L1301.3 624.0L1298.4 608.0L1294.7 584.7L1290.4 585.0L1288.9 570.0L1286.7 558.8L1280.2 555.2L1276.5 547.9L1273.6 530.5L1271.2 514.5L1270.7 504.3L1272.2 489.8L1275.8 476.7L1281.6 465.1L1292.5 452.7L1287.4 448.8L1277.3 448.3L1276.5 454.2L1272.6 458.1L1266.8 455.2L1262.7 461.4L1256.2 458.1L1260.5 451.2L1227.8 436.3L1214.8 444.0L1206.0 446.2L1194.1 452.8L1179.5 462.3L1150.5 480.8L1145.4 474.7L1138.8 470.3L1130.8 461.9L1126.5 463.8L1117.0 457.9L1111.2 449.9L1106.1 445.6L1106.8 442.7L1101.8 441.9L1107.6 429.3L1122.8 423.1L1135.9 420.1L1144.6 420.9L1144.6 407.1L1151.9 397.6L1157.7 395.4L1160.6 381.6L1162.8 370.0L1164.4 355.0L1172.4 350.6L1179.6 341.2L1181.1 321.6L1186.9 315.0L1186.9 309.2L1198.5 295.4L1196.8 287.0L1189.8 283.8L1189.1 278.7L1184.0 275.1L1183.3 266.3L1180.8 260.5L1181.6 254.7L1184.8 248.8L1185.2 232.8L1158.3 237.2L1159.5 229.7L1152.5 228.8L1151.8 225.3L1156.1 223.4L1161.2 217.6L1174.6 210.3L1175.7 213.7L1178.7 207.0L1191.0 216.1L1207.7 213.2L1204.1 203.1L1217.9 202.6L1223.4 204.1L1228.1 200.6L1238.2 211.0L1249.1 218.0L1252.8 201.6L1257.1 197.2L1276.8 185.6Z" fill="none" stroke="#000" stroke-width="4.2" stroke-linejoin="round"/>
<rect x="1062.2" y="46.5" width="598.8" height="708.1" fill="none" stroke="#000" stroke-width="2.8"/>
<text transform="translate(1062.70 35.40) scale(1 1.035)" class="t" text-anchor="start">(b) 60% RPVSPs</text>
<text transform="translate(1217.40 809.60) scale(1 1.035)" class="t" text-anchor="middle">4.8°E</text>
<text transform="translate(1380.90 809.60) scale(1 1.035)" class="t" text-anchor="middle">4.84°E</text>
<text transform="translate(1544.90 809.60) scale(1 1.035)" class="t" text-anchor="middle">4.88°E</text>
<text transform="translate(1035.40 163.90) scale(1 1.035)" class="t" text-anchor="end">45.8°N</text>
<text transform="translate(1035.40 398.20) scale(1 1.035)" class="t" text-anchor="end">45.76°N</text>
<text transform="translate(1035.40 632.50) scale(1 1.035)" class="t" text-anchor="end">45.72°N</text>
<g shape-rendering="geometricPrecision">
<path d="M2235.3 122.1L2255.8 122.1L2255.8 142.6L2235.3 142.6L2214.8 163.1L2214.8 183.6L2194.2 163.1L2194.2 142.6L2214.8 142.6ZM2173.7 183.6L2194.2 204.1L2173.7 204.1L2153.1 224.6L2153.1 245.1L2173.7 265.6L2194.2 245.1L2214.8 265.6L2235.3 265.6L2255.8 265.6L2255.8 286.0L2276.4 306.5L2296.9 286.0L2317.5 306.5L2338.1 306.5L2358.6 327.0L2379.2 347.5L2379.2 368.0L2399.7 388.5L2420.2 409.0L2440.8 429.5L2461.3 429.5L2481.9 429.5L2502.4 429.5L2502.4 450.0L2502.4 470.4L2481.9 490.9L2481.9 511.4L2461.3 531.9L2461.3 552.4L2461.3 572.9L2461.3 593.4L2461.3 613.9L2440.8 593.4L2420.2 593.4L2399.7 593.4L2379.2 572.9L2358.6 552.4L2338.1 552.4L2317.5 572.9L2317.5 593.4L2317.5 613.9L2296.9 613.9L2276.4 613.9L2255.8 634.4L2255.8 654.9L2255.8 675.3L2235.3 654.9L2214.8 654.9L2214.8 634.4L2214.8 613.9L2214.8 593.4L2194.2 572.9L2173.7 552.4L2173.7 531.9L2173.7 511.4L2173.7 490.9L2173.7 470.4L2194.2 450.0L2173.7 429.5L2153.1 450.0L2132.6 429.5L2112.0 429.5L2091.4 429.5L2070.9 450.0L2050.3 470.4L2029.8 450.0L2009.2 450.0L2009.2 429.5L2029.8 429.5L2050.3 409.0L2050.3 388.5L2070.9 368.0L2070.9 347.5L2070.9 327.0L2091.4 306.5L2091.4 286.0L2091.4 265.6L2091.4 245.1L2112.0 265.6L2132.6 245.1L2112.0 224.6L2091.4 245.1L2070.9 224.6L2091.4 224.6L2112.0 204.1L2132.6 224.6L2153.1 204.1ZM2132.6 286.0L2153.1 306.5L2132.6 327.0L2132.6 347.5L2153.1 368.0L2173.7 368.0L2194.2 388.5L2214.8 388.5L2194.2 409.0L2214.8 429.5L2235.3 409.0L2214.8 388.5L2235.3 368.0L2214.8 347.5L2194.2 327.0L2173.7 327.0L2194.2 306.5L2173.7 286.0L2153.1 265.6ZM2235.3 429.5L2255.8 450.0L2276.4 429.5L2255.8 409.0Z" fill="#f8f2ef"/>
<path d="M2235.3 122.1L2255.8 122.1L2255.8 142.6L2235.3 142.6L2218.0 159.9L2220.7 142.6L2219.1 138.3ZM2213.6 163.1L2214.8 175.9L2214.8 183.6L2194.2 163.1L2194.2 142.6L2212.3 142.6ZM2173.7 183.6L2194.2 204.1L2173.7 204.1L2153.1 224.6L2153.1 245.1L2173.7 265.6L2194.2 245.1L2214.8 265.6L2235.3 265.6L2255.8 265.6L2255.8 286.0L2276.4 306.5L2296.9 286.0L2317.5 306.5L2338.1 306.5L2358.6 327.0L2379.2 347.5L2379.2 368.0L2399.7 388.5L2420.2 409.0L2440.8 429.5L2461.3 429.5L2481.9 429.5L2502.4 429.5L2502.4 450.0L2502.4 470.4L2481.9 490.9L2481.9 511.4L2461.3 531.9L2461.3 552.4L2461.3 572.9L2461.3 580.6L2457.1 593.4L2461.3 606.2L2461.3 613.9L2440.8 593.4L2420.2 593.4L2399.7 593.4L2379.2 572.9L2358.6 552.4L2338.1 552.4L2317.5 572.9L2317.5 593.4L2317.5 613.9L2298.1 613.9L2296.9 611.3L2295.9 613.9L2276.4 613.9L2255.8 634.4L2255.8 654.9L2255.8 675.3L2235.3 654.9L2214.8 654.9L2214.8 634.4L2214.8 613.9L2214.8 593.4L2194.2 572.9L2173.7 552.4L2173.7 531.9L2173.7 511.4L2173.7 490.9L2173.7 470.4L2194.2 450.0L2173.7 429.5L2153.1 450.0L2132.6 429.5L2112.0 429.5L2091.4 429.5L2070.9 450.0L2050.3 470.4L2029.8 450.0L2009.2 450.0L2009.2 429.5L2029.8 429.5L2050.3 409.0L2050.3 388.5L2070.9 368.0L2070.9 347.5L2070.9 327.0L2091.4 306.5L2091.4 286.0L2091.4 265.9L2091.7 265.6L2093.2 246.9L2112.0 265.6L2132.6 245.1L2112.0 224.6L2094.2 242.3L2091.4 242.4L2077.1 230.7L2070.9 224.6L2091.4 224.6L2112.0 204.1L2132.6 224.6L2153.1 204.1ZM2132.6 286.0L2153.1 306.5L2132.6 327.0L2132.6 347.5L2153.1 368.0L2173.7 368.0L2194.2 388.5L2214.8 388.5L2194.2 409.0L2213.4 428.1L2213.3 429.5L2214.8 431.3L2218.3 429.5L2216.7 427.5L2235.3 409.0L2214.8 388.5L2235.3 368.0L2214.8 347.5L2194.2 327.0L2175.4 327.0L2176.0 324.6L2194.2 306.5L2173.7 286.0L2153.1 265.6ZM2129.4 368.0L2132.6 374.7L2136.0 368.0L2132.6 359.1ZM2274.3 388.5L2276.4 396.8L2278.5 388.5L2276.4 385.1ZM2235.3 429.5L2255.8 450.0L2276.4 429.5L2255.8 409.0ZM2352.0 429.5L2358.6 448.8L2368.0 429.5L2358.6 413.1ZM2355.4 470.4L2358.6 478.5L2364.9 470.4L2358.6 454.4ZM2293.1 490.9L2296.9 500.3L2298.7 490.9L2296.9 481.5ZM2250.7 511.4L2251.6 531.9L2250.0 552.4L2250.0 572.9L2253.9 593.4L2255.8 605.3L2263.0 593.4L2270.3 572.9L2269.9 552.4L2261.7 531.9L2259.7 511.4L2255.8 497.3ZM2337.7 511.4L2338.1 512.3L2339.1 511.4L2338.1 506.3ZM2192.1 531.9L2194.2 533.4L2194.6 531.9L2194.2 531.2ZM2210.9 572.9L2214.8 576.0L2215.5 572.9L2214.8 570.5Z" fill="#fae8de"/>
<path d="M2235.3 122.1L2255.8 122.1L2255.8 142.6L2235.3 142.6L2222.5 155.4L2224.5 142.6L2221.9 135.5ZM2211.9 163.1L2213.7 182.6L2194.2 163.1L2194.2 142.6L2210.8 142.6ZM2173.7 183.6L2194.2 204.1L2173.7 204.1L2153.1 224.6L2153.1 245.1L2173.7 265.6L2194.2 245.1L2214.8 265.6L2235.3 265.6L2255.8 265.6L2255.8 286.0L2276.4 306.5L2296.9 286.0L2317.5 306.5L2338.1 306.5L2358.6 327.0L2379.2 347.5L2379.2 368.0L2399.7 388.5L2420.2 409.0L2440.8 429.5L2461.3 429.5L2481.9 429.5L2502.4 429.5L2502.4 450.0L2502.4 470.4L2481.9 490.9L2481.9 511.4L2461.3 531.9L2461.3 552.4L2461.3 564.7L2456.8 572.9L2451.1 593.4L2456.2 608.8L2440.8 593.4L2420.2 593.4L2399.7 593.4L2379.2 572.9L2358.6 552.4L2338.1 552.4L2317.5 572.9L2317.5 593.4L2317.5 613.9L2306.1 613.9L2296.9 593.4L2288.7 613.9L2276.4 613.9L2255.8 634.4L2255.8 654.9L2255.8 675.3L2235.3 654.9L2214.8 654.9L2214.8 634.4L2214.8 613.9L2214.8 593.4L2194.2 572.9L2173.7 552.4L2173.7 531.9L2173.7 511.4L2173.7 490.9L2173.7 470.4L2194.2 450.0L2173.7 429.5L2153.1 450.0L2132.6 429.5L2112.0 429.5L2091.4 429.5L2070.9 450.0L2050.3 470.4L2029.8 450.0L2009.2 450.0L2009.2 431.5L2010.9 429.5L2029.8 429.5L2050.3 409.0L2050.3 388.5L2070.9 368.0L2070.9 347.5L2070.9 327.0L2091.4 306.5L2091.4 286.0L2091.4 268.6L2093.7 265.6L2095.0 248.6L2112.0 265.6L2132.6 245.1L2112.0 224.6L2097.0 239.5L2091.4 239.7L2072.8 224.6L2091.4 224.6L2112.0 204.1L2132.6 224.6L2153.1 204.1ZM2132.6 286.0L2153.1 306.5L2132.6 327.0L2132.6 347.5L2153.1 368.0L2173.7 368.0L2194.2 388.5L2214.8 388.5L2194.2 409.0L2212.0 426.7L2211.9 429.5L2214.8 433.1L2221.9 429.5L2218.7 425.5L2235.3 409.0L2214.8 388.5L2235.3 368.0L2214.8 347.5L2194.2 327.0L2177.2 327.0L2178.4 322.2L2194.2 306.5L2173.7 286.0L2153.1 265.6ZM2127.8 368.0L2132.6 378.2L2137.8 368.0L2132.6 354.3ZM2273.2 388.5L2276.4 401.3L2279.7 388.5L2276.4 383.2ZM2235.3 429.5L2255.8 450.0L2276.4 429.5L2255.8 409.0ZM2351.2 429.5L2357.5 450.0L2353.3 470.4L2358.6 483.6L2368.9 470.4L2361.0 450.0L2369.2 429.5L2358.6 410.9ZM2253.6 490.9L2247.4 511.4L2249.8 531.9L2248.9 552.4L2248.6 572.9L2251.9 593.4L2254.8 613.9L2255.8 615.7L2258.8 613.9L2270.2 593.4L2273.6 572.9L2272.6 552.4L2264.1 531.9L2262.2 511.4L2256.8 490.9L2255.8 480.7ZM2290.6 490.9L2296.9 506.3L2299.8 490.9L2296.9 475.6ZM2337.3 490.9L2335.0 511.4L2338.1 518.3L2346.3 511.4L2343.9 490.9L2338.1 489.5ZM2177.8 531.9L2194.2 543.6L2197.6 531.9L2194.2 526.1ZM2201.9 572.9L2214.8 583.1L2217.3 572.9L2214.8 565.0Z" fill="#fcdecd"/>
<path d="M2235.3 122.1L2255.8 122.1L2255.8 142.6L2235.3 142.6L2227.0 150.9L2228.3 142.6L2224.6 132.8ZM2210.3 163.1L2211.9 180.8L2194.2 163.1L2194.2 142.6L2209.3 142.6ZM2173.7 183.6L2194.2 204.1L2173.7 204.1L2153.1 224.6L2153.1 245.1L2173.7 265.6L2194.2 245.1L2214.8 265.6L2235.3 265.6L2255.8 265.6L2255.8 286.0L2276.4 306.5L2296.9 286.0L2317.5 306.5L2338.1 306.5L2358.6 327.0L2379.2 347.5L2379.2 368.0L2399.7 388.5L2420.2 409.0L2440.8 429.5L2461.3 429.5L2481.9 429.5L2502.4 429.5L2502.4 450.0L2502.4 470.4L2481.9 490.9L2481.9 511.4L2461.3 531.9L2461.3 549.8L2457.9 552.4L2448.8 572.9L2445.1 593.4L2447.2 599.8L2440.8 593.4L2420.2 593.4L2399.7 593.4L2379.2 572.9L2358.6 552.4L2338.1 552.4L2317.5 572.9L2317.5 593.4L2317.5 613.9L2314.1 613.9L2305.9 593.4L2296.9 585.4L2278.1 572.9L2276.4 567.8L2275.3 552.4L2266.5 531.9L2264.7 511.4L2260.3 490.9L2257.9 470.4L2255.8 465.8L2248.5 470.5L2245.6 490.9L2244.2 511.4L2248.1 531.9L2247.8 552.4L2247.3 572.9L2249.9 593.4L2251.0 613.9L2255.8 622.3L2269.1 613.9L2276.4 596.8L2281.5 613.9L2276.4 613.9L2255.8 634.4L2255.8 654.9L2255.8 675.3L2236.3 655.9L2236.8 654.9L2235.3 652.8L2219.9 634.4L2215.4 613.9L2214.8 608.8L2214.8 593.4L2199.3 578.0L2214.8 590.3L2219.1 572.9L2214.8 559.5L2196.3 552.4L2200.6 531.9L2194.2 520.9L2173.7 524.6L2173.7 511.4L2173.7 490.9L2173.7 470.4L2194.2 450.0L2173.7 429.5L2153.1 450.0L2132.6 429.5L2112.0 429.5L2091.4 429.5L2072.4 448.5L2070.9 449.3L2070.2 450.0L2069.9 451.0L2050.3 470.4L2029.8 450.0L2009.2 450.0L2009.2 435.1L2013.8 429.5L2029.8 429.5L2049.8 409.5L2050.3 411.0L2051.2 409.0L2050.3 408.3L2050.3 388.5L2070.9 368.0L2070.9 347.5L2070.9 327.0L2091.4 306.5L2091.4 286.0L2091.4 271.2L2095.6 265.6L2096.8 250.4L2112.0 265.6L2132.6 245.1L2112.0 224.6L2099.7 236.8L2091.4 237.1L2076.0 224.6L2091.4 224.6L2112.0 204.1L2132.6 224.6L2153.1 204.1ZM2132.6 286.0L2153.1 306.5L2132.6 327.0L2132.6 347.5L2153.1 368.0L2173.7 368.0L2194.2 388.5L2214.8 388.5L2194.2 409.0L2210.6 425.3L2210.4 429.5L2214.8 434.8L2225.5 429.5L2220.7 423.5L2235.3 409.0L2214.8 388.5L2235.3 368.0L2214.8 347.5L2194.2 327.0L2179.0 327.0L2180.8 319.8L2194.2 306.5L2173.7 286.0L2153.1 265.6ZM2356.3 347.5L2358.6 349.3L2360.2 347.5L2358.6 342.4ZM2126.1 368.0L2132.6 381.8L2139.7 368.0L2132.6 349.6ZM2272.1 388.5L2276.4 405.8L2280.8 388.5L2276.4 381.4ZM2358.3 409.0L2350.3 429.5L2355.5 450.0L2351.3 470.4L2358.6 488.7L2372.9 470.4L2365.2 450.0L2370.5 429.5L2359.0 409.0L2358.6 408.6ZM2235.3 429.5L2255.8 450.0L2276.4 429.5L2255.8 409.0ZM2316.5 450.0L2317.5 450.3L2317.8 450.0L2317.5 449.4ZM2296.5 470.4L2288.1 490.9L2296.3 511.4L2296.9 512.5L2297.5 511.4L2301.0 490.9L2297.2 470.4L2296.9 469.4ZM2336.1 490.9L2332.3 511.4L2338.1 524.2L2353.5 511.4L2354.2 490.9L2338.1 486.9ZM2397.6 552.4L2391.1 572.9L2399.7 585.7L2406.1 572.9L2401.4 552.4L2399.7 549.0Z" fill="#fbd0b9"/>
<path d="M2235.3 122.1L2255.8 122.1L2255.8 142.6L2235.3 142.6L2231.4 146.5L2232.1 142.6L2227.4 130.0ZM2208.7 163.1L2210.1 179.0L2194.2 163.1L2194.2 142.6L2207.8 142.6ZM2173.7 183.6L2194.2 204.1L2173.7 204.1L2153.1 224.6L2153.1 245.1L2173.7 265.6L2194.2 245.1L2214.8 265.6L2235.3 265.6L2255.8 265.6L2255.8 286.0L2276.4 306.5L2296.9 286.0L2317.5 306.5L2338.1 306.5L2358.6 327.0L2379.2 347.5L2379.2 368.0L2399.7 388.5L2420.2 409.0L2440.8 429.5L2461.3 429.5L2476.8 429.5L2478.5 450.0L2481.9 455.1L2488.8 450.0L2490.1 429.5L2502.4 429.5L2502.4 450.0L2502.4 463.6L2497.3 470.4L2499.9 473.0L2481.9 490.9L2481.9 511.4L2461.3 531.9L2461.3 531.9L2461.3 531.9L2440.8 511.4L2436.7 531.9L2433.9 552.4L2440.8 572.9L2440.8 572.9L2440.8 572.9L2433.9 593.4L2420.2 593.4L2410.0 593.4L2415.1 572.9L2413.4 552.4L2403.8 531.9L2399.7 521.7L2392.9 531.9L2383.3 552.4L2379.2 572.9L2379.2 572.9L2379.2 572.9L2358.6 552.4L2338.1 552.4L2317.5 572.9L2317.5 593.4L2317.5 600.2L2314.9 593.4L2296.9 577.5L2290.1 572.9L2290.1 552.4L2276.4 549.3L2268.9 531.9L2267.2 511.4L2263.7 490.9L2260.8 470.4L2255.8 459.3L2238.2 470.4L2237.6 490.9L2240.9 511.4L2246.3 531.9L2246.7 552.4L2246.0 572.9L2247.9 593.4L2247.2 613.9L2255.8 628.8L2271.3 619.0L2255.8 634.4L2255.8 654.9L2255.8 675.3L2243.5 663.1L2247.0 654.9L2235.3 638.5L2231.9 634.4L2220.2 613.9L2216.5 593.4L2220.9 572.9L2214.8 554.0L2210.6 552.4L2203.6 531.9L2194.2 515.8L2173.7 514.4L2173.7 511.4L2173.7 490.9L2173.7 470.4L2194.2 450.0L2173.7 429.5L2153.1 450.0L2132.6 429.5L2112.0 429.5L2091.4 429.5L2082.6 438.3L2070.9 444.8L2065.4 450.0L2062.7 458.2L2050.3 470.4L2032.7 452.9L2031.5 450.0L2029.8 448.8L2028.1 450.0L2009.2 450.0L2009.2 438.7L2016.6 429.5L2029.8 429.5L2046.2 413.1L2050.3 425.4L2057.2 409.0L2050.3 403.9L2050.3 388.5L2070.9 368.0L2070.9 347.5L2070.9 327.0L2091.4 306.5L2091.4 286.0L2091.4 273.9L2097.6 265.6L2098.6 252.2L2112.0 265.6L2132.6 245.1L2112.0 224.6L2102.5 234.0L2091.4 234.4L2079.3 224.6L2091.4 224.6L2112.0 204.1L2132.6 224.6L2153.1 204.1ZM2132.6 286.0L2153.1 306.5L2132.6 327.0L2132.6 343.4L2130.8 347.5L2124.4 368.0L2132.6 385.4L2141.5 368.0L2134.3 349.2L2153.1 368.0L2171.9 368.0L2173.7 370.3L2175.4 369.7L2194.2 388.5L2213.0 388.5L2213.7 389.5L2194.2 409.0L2209.2 424.0L2209.0 429.5L2214.8 436.6L2229.1 429.5L2222.7 421.5L2235.3 409.0L2216.5 390.2L2216.1 388.5L2218.9 384.4L2235.3 368.0L2214.8 347.5L2194.2 327.0L2180.8 327.0L2183.2 317.5L2194.2 306.5L2173.7 286.0L2153.1 265.6ZM2353.0 347.5L2358.6 351.9L2362.5 347.5L2358.6 335.2ZM2090.2 388.5L2091.4 390.5L2092.3 388.5L2091.4 385.9ZM2271.0 388.5L2275.8 409.0L2276.4 411.9L2277.5 409.0L2281.9 388.5L2276.4 379.6ZM2316.6 388.5L2317.5 392.6L2320.1 388.5L2317.5 387.1ZM2356.4 409.0L2349.4 429.5L2353.6 450.0L2349.2 470.4L2338.1 484.4L2334.8 490.9L2329.7 511.4L2338.1 530.2L2358.6 518.3L2363.7 511.4L2363.7 490.9L2376.9 470.4L2369.5 450.0L2371.8 429.5L2361.5 409.0L2358.6 406.2ZM2235.3 429.5L2255.8 450.0L2276.4 429.5L2255.8 409.0ZM2309.3 450.0L2317.5 452.3L2320.1 450.0L2317.5 445.1ZM2293.4 470.4L2285.6 490.9L2292.1 511.4L2296.9 519.6L2301.1 511.4L2302.1 490.9L2299.3 470.5L2296.9 462.3Z" fill="#f8bda1"/>
<path d="M2235.3 122.1L2255.8 122.1L2255.8 142.6L2235.7 142.6L2235.3 141.1L2230.2 127.2ZM2207.0 163.1L2208.3 177.2L2194.2 163.1L2194.2 142.6L2206.2 142.6ZM2173.7 183.6L2194.2 204.1L2173.7 204.1L2153.1 224.6L2153.1 241.6L2152.1 245.1L2151.8 265.6L2152.1 266.6L2132.6 286.0L2153.1 306.5L2132.6 327.0L2132.6 336.2L2127.8 347.5L2122.8 368.0L2132.0 388.5L2132.6 390.5L2133.3 388.5L2143.4 368.0L2137.3 352.2L2153.1 368.0L2168.9 368.0L2173.7 374.3L2178.4 372.7L2194.2 388.5L2210.0 388.5L2211.9 391.3L2194.2 409.0L2207.8 422.6L2207.6 429.5L2214.8 438.4L2232.7 429.5L2224.7 419.5L2235.3 409.0L2219.5 393.2L2218.5 388.5L2226.1 377.2L2235.3 368.0L2214.8 347.5L2194.2 327.0L2182.6 327.0L2185.6 315.1L2194.2 306.5L2175.9 288.2L2176.0 286.0L2173.7 270.7L2163.4 265.6L2163.4 255.3L2173.7 265.6L2194.2 245.1L2214.8 265.6L2235.3 265.6L2255.8 265.6L2255.8 286.0L2276.4 306.5L2296.9 286.0L2317.5 306.5L2338.1 306.5L2358.6 327.0L2379.2 347.5L2379.2 368.0L2399.7 388.5L2420.2 409.0L2440.8 429.5L2461.3 429.5L2467.8 429.5L2466.5 450.0L2478.5 470.4L2481.9 473.0L2490.9 482.0L2481.9 490.9L2481.9 511.4L2470.3 523.0L2468.7 511.4L2463.9 490.9L2461.3 487.5L2440.8 485.8L2435.7 490.9L2426.4 511.4L2422.3 531.9L2420.2 537.0L2418.2 531.9L2412.5 511.4L2410.0 490.9L2401.4 470.4L2399.7 467.0L2379.2 465.3L2373.7 450.0L2373.1 429.5L2364.1 409.0L2358.6 403.9L2354.4 409.0L2348.5 429.5L2351.7 450.0L2347.2 470.4L2338.1 481.8L2333.5 490.9L2327.0 511.4L2317.5 531.1L2314.1 531.9L2317.5 537.0L2327.8 552.4L2317.5 567.8L2309.8 552.4L2296.9 542.2L2276.4 543.7L2271.3 531.9L2269.7 511.4L2267.1 490.9L2263.7 470.4L2255.8 452.8L2240.4 450.0L2235.3 446.5L2234.9 450.0L2234.2 470.4L2231.0 490.9L2235.3 501.2L2237.6 511.4L2244.6 531.9L2245.6 552.4L2244.6 572.9L2245.9 593.4L2243.4 613.9L2235.3 629.2L2225.0 613.9L2219.5 593.4L2222.7 572.9L2216.2 552.4L2214.8 548.1L2206.6 531.9L2195.7 511.4L2194.2 508.0L2177.1 490.9L2173.7 487.5L2173.7 470.4L2194.2 450.0L2173.7 429.5L2153.1 450.0L2132.6 429.5L2112.0 429.5L2101.7 429.5L2091.4 427.8L2090.3 429.5L2070.9 440.4L2060.6 450.0L2055.5 465.3L2050.3 470.4L2043.0 463.1L2037.5 450.0L2029.8 444.5L2022.1 450.0L2009.2 450.0L2009.2 442.3L2019.5 429.5L2029.8 429.5L2042.6 416.7L2046.9 429.5L2050.3 434.6L2055.0 429.5L2063.2 409.0L2050.3 399.4L2050.3 388.5L2070.9 368.0L2070.9 347.5L2070.9 327.0L2091.4 306.5L2091.4 286.0L2091.4 276.6L2099.5 265.6L2100.4 254.0L2112.0 265.6L2132.6 245.1L2112.0 224.6L2105.3 231.3L2091.4 231.8L2082.6 224.6L2091.4 224.6L2112.0 204.1L2132.6 224.6L2153.1 204.1ZM2349.7 347.5L2358.6 354.5L2364.7 347.5L2358.6 328.0ZM2086.0 388.5L2091.4 397.7L2095.3 388.5L2091.4 377.0ZM2269.9 388.5L2273.5 409.0L2276.4 422.2L2281.3 409.0L2283.1 388.5L2276.4 377.7ZM2315.1 388.5L2317.5 399.8L2324.6 388.5L2317.5 384.7ZM2235.3 429.5L2255.8 450.0L2276.4 429.5L2255.8 409.0ZM2302.1 450.0L2317.5 454.4L2322.3 450.0L2317.5 440.9ZM2290.2 470.4L2283.1 490.9L2287.9 511.4L2296.9 526.8L2304.7 511.4L2303.2 490.9L2301.4 470.4L2296.9 455.1ZM2379.2 478.1L2392.0 490.9L2379.2 508.0L2372.7 490.9ZM2255.8 658.3L2255.8 675.3L2250.7 670.2Z" fill="#f5aa89"/>
<path d="M2235.3 122.1L2255.8 122.1L2255.8 142.6L2238.6 142.6L2235.3 130.9L2232.9 124.5ZM2205.4 163.1L2206.5 175.4L2194.2 163.1L2194.2 142.6L2204.7 142.6ZM2173.7 183.6L2194.2 204.1L2173.7 204.1L2156.0 221.6L2153.1 214.3L2150.5 224.6L2144.9 245.1L2142.8 265.6L2144.9 273.7L2132.6 286.0L2150.2 303.6L2132.6 303.6L2131.4 306.5L2132.6 316.8L2142.8 316.8L2132.6 327.0L2132.6 329.1L2124.8 347.5L2121.1 368.0L2128.4 388.5L2132.6 404.9L2138.4 388.5L2145.2 368.0L2140.3 355.2L2153.1 368.0L2165.9 368.0L2173.7 378.2L2181.4 375.7L2194.2 388.5L2207.0 388.5L2210.1 393.1L2194.2 409.0L2206.5 421.2L2206.1 429.5L2214.8 440.2L2231.7 450.0L2232.6 470.4L2225.0 490.9L2230.2 511.4L2235.3 512.7L2242.8 531.9L2244.5 552.4L2243.3 572.9L2243.9 593.4L2239.6 613.9L2235.3 622.1L2229.8 613.9L2222.5 593.4L2224.5 572.9L2218.3 552.4L2214.8 542.2L2209.6 531.9L2205.9 511.4L2197.1 490.9L2194.2 488.0L2176.6 470.4L2174.9 469.2L2194.2 450.0L2173.7 429.5L2153.1 450.0L2142.8 439.7L2142.8 429.5L2132.6 419.2L2112.0 421.8L2091.4 415.8L2082.3 429.5L2070.9 435.9L2061.6 429.5L2069.2 409.0L2050.3 394.9L2050.3 388.5L2070.9 368.0L2070.9 347.5L2070.9 327.0L2091.4 306.5L2091.4 286.0L2091.4 279.2L2101.4 265.6L2102.2 255.8L2112.0 265.6L2132.6 245.1L2112.0 224.6L2108.0 228.5L2091.4 229.1L2085.8 224.6L2091.4 224.6L2109.1 207.0L2112.0 207.5L2114.6 206.6L2132.6 224.6L2153.1 204.1ZM2081.8 388.5L2091.4 404.9L2098.3 388.5L2091.4 368.0ZM2194.2 245.1L2214.8 265.6L2235.3 265.6L2255.8 265.6L2255.8 286.0L2276.4 306.5L2296.9 286.0L2317.5 306.5L2338.1 306.5L2353.5 321.9L2355.5 327.0L2346.5 347.5L2358.6 357.0L2366.9 347.5L2361.4 329.8L2379.2 347.5L2379.2 368.0L2397.1 385.9L2397.1 388.5L2399.7 393.6L2410.0 398.7L2420.2 409.0L2430.5 419.2L2433.9 429.5L2433.9 450.0L2430.5 470.4L2420.2 480.7L2413.4 470.4L2406.6 450.0L2399.7 443.1L2389.4 450.0L2379.2 453.4L2377.9 450.0L2374.4 429.5L2366.7 409.0L2358.6 401.5L2352.5 409.0L2347.6 429.5L2349.7 450.0L2345.1 470.5L2338.1 479.2L2332.3 490.9L2324.3 511.4L2317.5 525.6L2308.3 511.4L2304.3 490.9L2303.4 470.5L2317.5 456.4L2324.6 450.0L2317.5 436.7L2299.9 429.5L2296.9 427.8L2285.1 409.0L2284.2 388.5L2276.4 375.9L2268.8 388.5L2271.3 409.0L2275.6 428.7L2255.8 409.0L2236.1 428.7L2235.3 428.2L2226.7 417.5L2235.3 409.0L2222.5 396.2L2220.9 388.5L2233.2 370.0L2235.3 368.0L2214.8 347.5L2194.2 327.0L2184.4 327.0L2188.0 312.7L2194.2 306.5L2181.0 293.4L2181.6 286.0L2179.3 265.6L2179.8 259.4ZM2313.6 388.5L2317.5 406.9L2329.1 388.5L2317.5 382.3ZM2042.1 429.5L2029.8 440.3L2022.4 429.5L2029.8 429.5L2039.0 420.2ZM2016.1 450.0L2009.2 450.0L2009.2 445.9ZM2050.3 441.8L2055.8 450.0L2050.3 466.4L2043.5 450.0ZM2276.4 436.3L2290.1 450.0L2287.1 470.4L2280.7 490.9L2283.7 511.4L2292.8 531.9L2276.4 538.2L2273.7 531.9L2272.1 511.4L2270.5 490.9L2266.5 470.4L2266.1 450.0ZM2481.9 490.9L2481.9 490.9L2481.9 490.9L2481.9 511.4L2479.3 514.0L2479.0 511.4L2481.9 490.9Z" fill="#ec9374"/>
<path d="M2255.8 122.1L2255.8 142.6L2241.5 142.6L2235.9 122.1ZM2203.8 163.1L2204.7 173.6L2194.2 163.1L2194.2 142.6L2203.2 142.6ZM2173.7 183.6L2194.2 204.1L2173.7 204.1L2166.3 211.4L2163.4 204.1L2163.4 193.8ZM2112.0 219.4L2123.6 215.6L2132.6 224.6L2144.5 212.6L2141.5 224.6L2137.7 245.1L2133.8 265.6L2137.7 280.9L2132.6 286.0L2139.9 293.4L2132.6 293.4L2127.4 306.5L2129.7 327.0L2121.8 347.5L2119.4 368.0L2124.8 388.5L2119.7 409.0L2112.0 412.8L2101.7 409.0L2101.3 388.5L2095.2 368.0L2092.3 347.5L2091.4 345.8L2090.8 347.5L2070.9 365.2L2070.9 347.5L2070.9 327.0L2091.4 306.5L2091.4 286.0L2091.4 281.9L2103.4 265.6L2104.0 257.6L2112.0 265.6L2132.6 245.1L2112.0 224.6L2110.8 225.8L2091.4 226.5L2089.1 224.6L2091.4 224.6L2098.8 217.3ZM2194.2 245.1L2214.8 265.6L2235.3 265.6L2255.8 265.6L2255.8 286.0L2276.4 306.5L2296.9 286.0L2317.5 306.5L2338.1 306.5L2347.5 315.9L2351.9 327.0L2343.2 347.5L2358.6 359.6L2369.2 347.5L2364.7 333.1L2379.2 347.5L2379.2 368.0L2388.1 377.0L2388.1 388.5L2399.0 409.0L2396.9 429.5L2379.2 445.7L2375.7 429.5L2369.2 409.0L2358.6 399.1L2350.5 409.0L2346.7 429.5L2347.8 450.0L2343.0 470.4L2338.1 476.7L2331.0 490.9L2321.7 511.4L2317.5 520.1L2311.8 511.4L2305.5 490.9L2305.5 470.4L2317.5 458.4L2326.8 450.0L2317.5 432.5L2310.2 429.5L2296.9 421.8L2288.8 409.0L2285.4 388.5L2276.4 374.0L2267.7 388.5L2269.0 409.0L2272.7 425.8L2255.8 409.0L2239.0 425.8L2235.3 423.7L2228.7 415.5L2235.3 409.0L2225.5 399.2L2223.3 388.5L2235.3 370.6L2236.7 368.0L2235.3 361.6L2226.7 359.5L2214.8 347.5L2194.2 327.0L2186.2 327.0L2190.4 310.3L2194.2 306.5L2186.1 298.5L2187.1 286.0L2185.8 265.5L2187.0 252.2ZM2312.1 388.5L2312.4 409.0L2317.5 419.2L2319.6 409.0L2333.6 388.5L2317.5 380.0ZM2143.3 358.2L2153.1 368.0L2162.9 368.0L2173.7 382.2L2184.4 378.7L2194.2 388.5L2204.0 388.5L2208.3 394.9L2194.2 409.0L2205.1 419.8L2204.7 429.5L2214.8 442.0L2228.6 450.0L2231.0 470.4L2219.0 490.9L2214.8 508.0L2207.4 490.9L2194.2 477.8L2186.9 470.4L2179.4 464.7L2194.2 450.0L2173.7 429.5L2163.4 439.7L2163.4 429.5L2153.8 409.0L2153.1 407.5L2143.6 388.5L2147.0 368.0ZM2070.9 374.4L2077.5 388.5L2070.9 402.6L2050.3 390.4L2050.3 388.5L2058.1 380.8ZM2037.3 429.5L2029.8 436.1L2025.3 429.5L2029.8 429.5L2035.5 423.8ZM2070.9 421.8L2074.3 429.5L2070.9 431.4L2068.1 429.5ZM2010.1 450.0L2009.2 450.0L2009.2 449.4ZM2050.3 448.9L2051.0 450.0L2050.3 452.0L2049.5 450.0ZM2276.4 453.0L2284.0 470.4L2278.2 490.9L2279.4 511.4L2278.5 531.9L2276.4 532.7L2276.1 531.9L2274.6 511.4L2274.0 490.9L2269.4 470.4ZM2214.8 514.8L2235.3 517.2L2241.1 531.9L2243.4 552.4L2242.0 572.9L2241.9 593.4L2235.8 613.9L2235.3 614.9L2234.6 613.9L2225.5 593.4L2226.3 572.9L2220.3 552.4L2214.8 536.2L2212.6 531.9Z" fill="#e27b62"/>
<path d="M2255.8 122.1L2255.8 142.6L2244.3 142.6L2240.4 122.1ZM2202.1 163.1L2202.9 171.8L2194.2 163.1L2194.2 142.6L2201.6 142.6ZM2132.6 224.6L2132.6 224.6L2132.6 224.6L2132.6 224.6L2132.6 224.6L2132.5 224.6ZM2105.8 259.4L2112.0 265.6L2131.0 246.6L2128.4 265.6L2131.8 286.0L2123.4 306.5L2125.7 327.0L2118.8 347.5L2117.7 368.0L2121.2 388.5L2112.0 405.3L2104.3 388.5L2099.0 368.0L2098.3 347.5L2091.4 333.9L2086.3 347.5L2070.9 361.2L2070.9 347.5L2070.9 327.0L2091.4 306.5L2091.4 286.0L2091.4 284.5L2105.3 265.6ZM2194.2 245.1L2214.8 265.6L2235.3 265.6L2255.8 265.6L2255.8 286.0L2276.4 306.5L2290.1 292.9L2296.9 306.5L2301.1 290.1L2317.5 306.5L2338.1 306.5L2341.5 309.9L2348.3 327.0L2339.9 347.5L2338.1 361.2L2336.7 368.0L2317.5 377.6L2310.7 388.5L2305.2 409.0L2296.9 415.8L2292.6 409.0L2286.5 388.5L2276.4 372.2L2266.6 388.5L2266.8 409.0L2269.8 422.9L2255.8 409.0L2241.9 422.9L2235.3 419.2L2230.7 413.5L2235.3 409.0L2228.4 402.2L2225.7 388.5L2235.3 374.1L2238.7 368.0L2235.3 352.6L2214.8 347.5L2214.8 347.5L2194.2 327.0L2188.0 327.0L2192.8 307.9L2194.2 306.5L2191.3 303.6L2192.6 286.0L2192.3 265.6L2194.2 245.1ZM2228.4 286.0L2231.9 306.5L2235.3 311.7L2242.2 306.5L2242.2 286.0L2235.3 279.2ZM2211.8 327.0L2214.8 347.5L2223.0 327.0L2214.8 321.2ZM2367.9 336.3L2379.2 347.5L2379.2 368.0L2379.2 368.0L2379.2 388.5L2393.8 409.0L2390.4 429.5L2379.2 439.7L2376.9 429.5L2371.8 409.0L2358.6 396.7L2348.6 409.0L2345.8 429.5L2345.8 450.0L2341.0 470.4L2338.1 474.1L2329.8 490.9L2319.0 511.4L2317.5 514.6L2315.4 511.4L2306.6 490.9L2307.5 470.5L2317.5 460.5L2329.1 450.0L2318.2 429.5L2322.4 409.0L2338.1 388.5L2338.1 388.5L2340.3 368.0L2358.6 362.1L2371.4 347.5ZM2146.2 361.2L2153.1 368.0L2159.9 368.0L2173.7 386.2L2187.3 381.7L2194.2 388.5L2201.1 388.5L2206.5 396.7L2194.2 409.0L2203.7 418.4L2203.2 429.5L2214.8 443.8L2225.5 450.0L2229.4 470.4L2214.8 490.3L2194.8 470.4L2194.2 468.2L2183.9 460.2L2194.2 450.0L2175.9 431.7L2174.5 429.5L2173.7 427.6L2159.0 409.0L2153.1 397.3L2148.7 388.5L2148.9 368.0ZM2070.9 383.4L2073.3 388.5L2070.9 393.6L2060.6 388.5ZM2032.5 429.5L2029.8 431.9L2028.2 429.5L2029.8 429.5L2031.9 427.4ZM2276.4 460.2L2280.9 470.4L2276.4 487.5L2272.3 470.4ZM2235.3 521.7L2239.3 531.9L2242.3 552.4L2240.6 572.9L2239.9 593.4L2235.3 608.3L2228.4 593.4L2228.1 572.9L2222.4 552.4L2217.0 531.9Z" fill="#d7634f"/>
<path d="M2255.8 122.1L2255.8 142.6L2247.2 142.6L2244.9 122.1ZM2200.5 163.1L2201.1 170.0L2194.2 163.1L2194.2 142.6L2200.1 142.6ZM2107.6 261.2L2112.0 265.6L2125.4 252.2L2123.6 265.6L2129.4 286.0L2119.4 306.5L2121.7 327.0L2115.9 347.5L2116.1 368.0L2117.7 388.5L2112.0 398.7L2107.3 388.5L2102.8 368.0L2104.3 347.5L2094.5 327.0L2091.4 316.8L2085.3 312.7L2091.4 306.5L2091.4 296.3L2092.6 286.0L2107.3 265.6ZM2255.8 265.6L2255.8 270.7L2250.7 265.6ZM2214.8 296.3L2219.9 306.5L2214.8 310.9L2206.7 327.0L2208.8 341.5L2194.2 327.0L2189.8 327.0L2194.2 309.6L2204.5 306.5ZM2315.4 304.5L2317.5 306.5L2322.6 306.5L2338.1 310.4L2344.7 327.0L2338.1 343.7L2335.0 347.5L2331.9 368.0L2317.5 375.2L2309.2 388.5L2298.0 409.0L2296.9 409.8L2296.4 409.0L2287.7 388.5L2276.4 370.4L2265.5 388.5L2264.5 409.0L2266.9 420.0L2255.8 409.0L2244.8 420.0L2235.3 414.7L2232.7 411.5L2235.3 409.0L2231.4 405.1L2228.1 388.5L2235.3 377.7L2240.7 368.0L2240.4 347.5L2255.8 329.1L2276.4 328.7L2281.5 327.0L2296.9 320.9L2314.9 306.5ZM2081.8 347.5L2070.9 357.2L2070.9 347.5L2070.9 333.0ZM2371.2 339.6L2379.2 347.5L2379.2 362.0L2373.7 347.5ZM2149.2 364.2L2153.1 368.0L2157.0 368.0L2153.1 386.4L2150.7 368.0ZM2358.6 364.7L2370.2 368.0L2373.2 388.5L2358.6 394.3L2344.0 388.5L2348.3 368.0ZM2190.3 384.6L2194.2 388.5L2198.1 388.5L2204.7 398.5L2194.2 409.0L2202.3 417.1L2201.8 429.5L2214.8 445.6L2222.3 450.0L2227.8 470.4L2214.8 488.1L2197.0 470.5L2194.2 460.2L2188.4 455.7L2194.2 450.0L2183.9 439.7L2177.7 429.5L2173.7 421.1L2164.1 409.0L2173.7 392.3L2178.8 388.5ZM2338.1 392.3L2346.7 409.0L2344.9 429.5L2343.9 450.0L2338.9 470.4L2338.1 471.5L2328.5 490.9L2317.5 510.5L2307.7 490.9L2309.6 470.4L2317.5 462.5L2331.3 450.0L2320.5 429.5L2325.3 409.0ZM2379.2 395.7L2388.7 409.0L2383.8 429.5L2379.2 433.7L2378.2 429.5L2374.4 409.0ZM2276.4 467.4L2277.7 470.4L2276.4 475.6L2275.2 470.4ZM2235.3 526.2L2237.6 531.9L2241.1 552.4L2239.3 572.9L2237.9 593.4L2235.3 601.8L2231.4 593.4L2229.9 572.9L2224.4 552.4L2225.0 531.9Z" fill="#cc4c44"/>
<path d="M2255.8 122.1L2255.8 142.6L2250.1 142.6L2249.4 122.1ZM2198.9 163.1L2199.3 168.2L2194.2 163.1L2194.2 142.6L2198.6 142.6ZM2109.4 263.0L2112.0 265.6L2119.9 257.7L2118.8 265.6L2126.9 286.0L2115.4 306.5L2117.7 327.0L2112.9 347.5L2114.4 368.0L2114.1 388.5L2112.0 392.2L2110.3 388.5L2106.6 368.0L2110.3 347.5L2101.7 327.0L2099.7 306.5L2095.4 286.0L2109.2 265.6ZM2194.2 316.8L2201.5 327.0L2202.8 335.6L2194.2 327.0L2191.6 327.0ZM2317.5 314.2L2338.1 319.3L2341.1 327.0L2338.1 334.7L2327.8 347.5L2327.1 368.0L2317.5 372.8L2307.7 388.5L2296.9 406.8L2288.8 388.5L2276.4 368.5L2264.4 388.5L2262.3 409.0L2264.1 417.2L2255.8 409.0L2247.6 417.2L2235.3 410.3L2234.7 409.5L2235.3 409.0L2234.4 408.1L2230.5 388.5L2235.3 381.3L2242.7 368.0L2252.4 347.5L2255.8 343.4L2276.4 340.7L2296.9 335.2L2302.8 327.0ZM2077.3 347.5L2070.9 353.2L2070.9 347.5L2070.9 339.0ZM2374.5 342.9L2379.2 347.5L2379.2 356.0L2375.9 347.5ZM2152.2 367.1L2153.1 368.0L2154.0 368.0L2153.1 372.1L2152.6 368.0ZM2358.6 367.3L2361.2 368.0L2367.2 388.5L2358.6 391.9L2350.0 388.5L2356.3 368.0ZM2193.3 387.6L2194.2 388.5L2195.1 388.5L2202.9 400.3L2194.2 409.0L2200.9 415.7L2200.4 429.5L2214.8 447.4L2219.2 450.0L2226.2 470.4L2214.8 486.0L2199.2 470.4L2194.2 452.2L2192.9 451.2L2194.2 450.0L2191.9 447.7L2180.8 429.5L2173.7 414.6L2169.2 409.0L2173.7 401.3L2190.8 388.5ZM2338.1 396.0L2344.7 409.0L2344.0 429.5L2341.9 450.0L2338.1 465.9L2333.6 450.0L2322.8 429.5L2328.2 409.0ZM2379.2 402.8L2383.6 409.0L2379.2 424.3L2376.9 409.0ZM2317.5 464.6L2334.6 470.4L2327.2 490.9L2317.5 508.2L2308.8 490.9L2311.6 470.4ZM2235.3 530.6L2235.8 531.9L2240.0 552.4L2238.0 572.9L2235.9 593.4L2235.3 595.3L2234.4 593.4L2231.7 572.9L2226.5 552.4L2233.0 531.9Z" fill="#bf3338"/>
<path d="M2255.8 122.1L2255.8 142.6L2253.0 142.6L2253.9 122.1ZM2197.2 163.1L2197.5 166.4L2194.2 163.1L2194.2 142.6L2197.0 142.6ZM2111.2 264.8L2112.0 265.6L2114.4 263.2L2114.1 265.6L2124.4 286.0L2112.0 306.0L2098.2 286.0L2111.2 265.6ZM2112.0 311.7L2113.7 327.0L2112.0 334.7L2108.9 327.0ZM2194.2 323.9L2196.4 327.0L2196.8 329.6L2194.2 327.0L2193.4 327.0ZM2317.5 323.2L2332.9 327.0L2320.6 347.5L2322.3 368.0L2317.5 370.4L2306.2 388.5L2296.9 404.2L2289.9 388.5L2279.0 368.0L2296.9 348.1L2302.1 347.5L2313.1 327.0ZM2072.8 347.5L2070.9 349.2L2070.9 347.5L2070.9 344.9ZM2377.7 346.1L2379.2 347.5L2379.2 350.1L2378.2 347.5ZM2112.0 360.3L2112.7 368.0L2112.0 378.2L2110.4 368.0ZM2255.8 349.8L2274.1 368.0L2263.3 388.5L2260.0 409.0L2261.2 414.3L2255.8 409.0L2250.5 414.3L2241.0 409.0L2235.3 400.4L2232.9 388.5L2235.3 384.9L2244.7 368.0ZM2358.6 380.8L2361.2 388.5L2358.6 389.5L2356.0 388.5ZM2194.2 391.7L2201.1 402.1L2194.2 409.0L2199.5 414.3L2198.9 429.5L2194.2 446.3L2183.9 429.5L2174.4 409.0ZM2338.1 399.8L2342.8 409.0L2343.1 429.5L2340.0 450.0L2338.1 457.9L2335.8 450.0L2325.1 429.5L2331.1 409.0ZM2214.8 449.2L2216.1 450.0L2224.6 470.4L2214.8 483.8L2201.4 470.5L2207.0 450.0ZM2317.5 466.6L2328.6 470.4L2326.0 490.9L2317.5 506.0L2310.0 490.9L2313.7 470.4ZM2235.3 535.6L2238.9 552.4L2236.6 572.9L2235.3 584.9L2233.5 572.9L2228.5 552.4Z" fill="#b3192c"/>
<path d="M2255.8 142.6L2255.8 142.6L2255.8 142.6ZM2195.6 163.1L2195.7 164.6L2194.2 163.1L2194.2 142.6L2195.5 142.6ZM2112.0 268.1L2121.9 286.0L2112.0 302.0L2100.9 286.0ZM2255.8 353.1L2270.8 368.0L2262.2 388.5L2257.8 409.0L2258.3 411.4L2255.8 409.0L2253.4 411.4L2249.0 409.0L2235.3 388.5L2235.3 388.5L2235.3 388.5L2246.7 368.0ZM2296.9 352.1L2317.5 368.0L2317.5 368.0L2317.5 368.0L2304.7 388.5L2296.9 401.7L2291.1 388.5L2282.6 368.0ZM2194.2 396.2L2199.3 403.9L2194.2 409.0L2198.2 412.9L2197.5 429.5L2194.2 441.2L2187.1 429.5L2179.5 409.0ZM2338.1 403.6L2340.8 409.0L2342.2 429.5L2338.1 450.0L2338.1 450.0L2338.1 450.0L2327.4 429.5L2333.9 409.0ZM2214.8 452.0L2223.0 470.4L2214.8 481.6L2203.5 470.4ZM2317.5 468.7L2322.6 470.5L2324.7 490.9L2317.5 503.7L2311.1 490.9L2315.7 470.4ZM2235.3 540.7L2237.8 552.4L2235.3 572.9L2235.3 572.9L2235.3 572.9L2230.6 552.4Z" fill="#991027"/>
<path d="M2112.0 272.6L2119.4 286.0L2112.0 298.0L2103.7 286.0ZM2255.8 356.4L2267.5 368.0L2261.1 388.5L2255.8 408.4L2238.9 388.5L2248.7 368.0ZM2296.9 356.0L2312.4 368.0L2303.2 388.5L2296.9 399.1L2292.2 388.5L2286.2 368.0ZM2194.2 400.7L2197.5 405.7L2194.2 409.0L2196.8 411.5L2196.0 429.5L2194.2 436.1L2190.2 429.5L2184.7 409.0ZM2338.1 407.4L2338.9 409.0L2341.3 429.5L2338.1 445.5L2329.8 429.5L2336.8 409.0ZM2214.8 455.6L2221.4 470.4L2214.8 479.5L2205.7 470.4ZM2317.5 471.1L2323.4 490.9L2317.5 501.5L2312.2 490.9ZM2235.3 545.8L2236.7 552.4L2235.3 563.9L2232.7 552.4Z" fill="#7f0823"/>
<path d="M2112.0 277.1L2117.0 286.0L2112.0 294.0L2106.5 286.0ZM2255.8 359.6L2264.3 368.0L2260.0 388.5L2255.8 404.2L2242.5 388.5L2250.7 368.0ZM2296.9 360.0L2307.2 368.0L2301.7 388.5L2296.9 396.5L2293.4 388.5L2289.8 368.0ZM2194.2 405.1L2195.7 407.4L2194.2 409.0L2195.4 410.2L2194.6 429.5L2194.2 430.9L2193.3 429.5L2189.8 409.0ZM2338.1 412.7L2340.4 429.5L2338.1 441.0L2332.1 429.5ZM2214.8 459.2L2219.8 470.4L2214.8 477.3L2207.9 470.5ZM2317.5 475.3L2322.2 490.9L2317.5 499.3L2313.3 490.9ZM2235.3 550.9L2235.6 552.4L2235.3 555.0L2234.7 552.4Z" fill="#67001f"/>
<path d="M2216.9 142.6L2214.8 156.3L2213.9 142.6L2214.8 142.6L2216.3 141.0ZM2132.6 363.9L2134.1 368.0L2132.6 371.1L2131.1 368.0ZM2276.4 386.9L2277.4 388.5L2276.4 392.3L2275.5 388.5ZM2358.6 415.4L2366.7 429.5L2358.6 446.2L2352.9 429.5ZM2358.6 464.6L2360.9 470.4L2358.6 473.4L2357.4 470.4ZM2296.9 487.5L2297.6 490.9L2296.9 494.4L2295.5 490.9ZM2255.8 506.3L2257.3 511.4L2259.3 531.9L2267.3 552.4L2267.1 572.9L2255.8 593.4L2251.3 572.9L2251.1 552.4L2253.3 531.9L2254.0 511.4Z" fill="#f0f4f6"/>
<path d="M2358.6 417.6L2365.4 429.5L2358.6 443.5L2353.8 429.5ZM2255.8 521.7L2256.9 531.9L2264.6 552.4L2263.8 572.9L2255.8 587.4L2252.6 572.9L2252.2 552.4L2255.1 531.9Z" fill="#e3edf3"/>
<path d="M2358.6 419.9L2364.1 429.5L2358.6 440.9L2354.7 429.5ZM2255.8 536.0L2261.9 552.4L2260.5 572.9L2255.8 581.4L2253.9 572.9L2253.3 552.4Z" fill="#d5e7f1"/>
<path d="M2358.6 422.1L2362.8 429.5L2358.6 438.2L2355.6 429.5ZM2255.8 543.2L2259.3 552.4L2257.3 572.9L2255.8 575.5L2255.3 572.9L2254.4 552.4Z" fill="#c5dfec"/>
<path d="M2358.6 424.3L2361.5 429.5L2358.6 435.5L2356.5 429.5ZM2255.8 550.4L2256.6 552.4L2255.8 559.2L2255.5 552.4Z" fill="#aed3e6"/>
<path d="M2358.6 426.6L2360.3 429.5L2358.6 432.9L2357.4 429.5Z" fill="#98c8e0"/>
<path d="M2358.6 428.8L2359.0 429.5L2358.6 430.2L2358.3 429.5Z" fill="#7eb8d7"/>
</g>
<path d="M2109.5 46.5 V754.6M2273.0 46.5 V754.6M2437.0 46.5 V754.6M1953.7 154.4 H2552.5M1953.7 388.7 H2552.5M1953.7 623.0 H2552.5" stroke="#808080" stroke-opacity="0.27" stroke-width="1" stroke-dasharray="1.9 0.95" fill="none"/>
<path d="M2170.0 178.7L2174.6 172.1L2176.8 162.7L2181.9 161.9L2184.8 157.6L2189.2 157.6L2191.3 140.9L2206.6 142.0L2207.3 136.5L2203.0 126.0L2220.4 126.0L2240.8 113.0L2241.5 119.8L2247.3 124.9L2249.8 129.0L2255.3 121.2L2258.2 109.6L2261.1 104.5L2264.0 110.3L2265.5 123.4L2269.1 130.7L2279.3 132.9L2277.1 139.4L2271.3 149.6L2264.7 157.6L2260.4 164.1L2253.1 168.5L2242.2 172.8L2227.7 175.8L2218.2 183.0L2200.8 198.3L2187.0 213.5L2201.5 225.2L2201.1 228.1L2197.2 230.3L2198.6 234.6L2204.4 235.3L2205.5 246.2L2228.1 254.9L2229.5 256.0L2232.4 252.0L2239.7 253.5L2239.0 257.4L2236.1 258.1L2244.0 261.3L2249.9 260.3L2262.2 255.2L2265.1 257.4L2277.5 274.1L2285.5 278.2L2290.3 267.4L2296.1 257.2L2306.3 247.1L2317.9 238.3L2329.5 232.5L2341.1 230.3L2354.2 230.3L2351.3 272.5L2348.4 315.4L2358.9 318.3L2363.7 327.7L2368.8 335.7L2376.8 339.4L2377.2 343.0L2379.5 346.5L2386.8 350.9L2402.8 381.4L2414.4 385.3L2411.1 394.9L2422.4 398.9L2421.0 417.0L2415.4 418.8L2428.2 417.8L2437.0 419.2L2451.5 422.1L2466.0 421.7L2483.5 422.6L2495.1 424.0L2504.5 426.9L2511.8 430.1L2508.9 441.7L2506.7 456.3L2503.8 467.9L2498.7 479.5L2494.9 488.7L2489.1 505.4L2485.5 508.3L2484.7 514.2L2477.5 531.6L2472.4 544.0L2468.8 559.2L2468.5 562.8L2464.4 565.8L2464.1 573.0L2467.3 620.3L2461.5 613.7L2459.3 615.2L2441.1 610.8L2439.0 612.6L2436.8 611.5L2363.6 581.7L2354.2 560.2L2328.8 565.3L2332.0 628.5L2262.6 631.4L2264.8 660.5L2275.0 694.6L2263.3 696.1L2249.5 686.5L2240.7 680.6L2230.6 676.0L2218.9 669.7L2208.8 661.0L2202.2 650.1L2197.1 637.0L2192.8 624.0L2189.9 608.0L2186.2 584.7L2181.9 585.0L2180.4 570.0L2178.2 558.8L2171.7 555.2L2168.0 547.9L2165.1 530.5L2162.7 514.5L2162.2 504.3L2163.7 489.8L2167.3 476.7L2173.1 465.1L2184.0 452.7L2178.9 448.8L2168.8 448.3L2168.0 454.2L2164.1 458.1L2158.3 455.2L2154.2 461.4L2147.7 458.1L2152.0 451.2L2119.3 436.3L2106.3 444.0L2097.5 446.2L2085.6 452.8L2071.0 462.3L2042.0 480.8L2036.9 474.7L2030.3 470.3L2022.3 461.9L2018.0 463.8L2008.5 457.9L2002.7 449.9L1997.6 445.6L1998.3 442.7L1993.3 441.9L1999.1 429.3L2014.3 423.1L2027.4 420.1L2036.1 420.9L2036.1 407.1L2043.4 397.6L2049.2 395.4L2052.1 381.6L2054.3 370.0L2055.9 355.0L2063.9 350.6L2071.1 341.2L2072.6 321.6L2078.4 315.0L2078.4 309.2L2090.0 295.4L2088.3 287.0L2081.3 283.8L2080.6 278.7L2075.5 275.1L2074.8 266.3L2072.3 260.5L2073.1 254.7L2076.3 248.8L2076.7 232.8L2049.8 237.2L2051.0 229.7L2044.0 228.8L2043.3 225.3L2047.6 223.4L2052.7 217.6L2066.1 210.3L2067.2 213.7L2070.2 207.0L2082.5 216.1L2099.2 213.2L2095.6 203.1L2109.4 202.6L2114.9 204.1L2119.6 200.6L2129.7 211.0L2140.6 218.0L2144.3 201.6L2148.6 197.2L2168.3 185.6Z" fill="none" stroke="#000" stroke-width="4.2" stroke-linejoin="round"/>
<rect x="1953.7" y="46.5" width="598.8" height="708.1" fill="none" stroke="#000" stroke-width="2.8"/>
<text transform="translate(1954.20 35.40) scale(1 1.035)" class="t" text-anchor="start">(c) 100% RPVSPs</text>
<text transform="translate(2108.90 809.60) scale(1 1.035)" class="t" text-anchor="middle">4.8°E</text>
<text transform="translate(2272.40 809.60) scale(1 1.035)" class="t" text-anchor="middle">4.84°E</text>
<text transform="translate(2436.40 809.60) scale(1 1.035)" class="t" text-anchor="middle">4.88°E</text>
<text transform="translate(1926.90 163.90) scale(1 1.035)" class="t" text-anchor="end">45.8°N</text>
<text transform="translate(1926.90 398.20) scale(1 1.035)" class="t" text-anchor="end">45.76°N</text>
<text transform="translate(1926.90 632.50) scale(1 1.035)" class="t" text-anchor="end">45.72°N</text>
<text transform="translate(876.90 971.80) scale(1 1.035)" class="t" text-anchor="middle">-0.70</text>
<text transform="translate(1015.40 971.80) scale(1 1.035)" class="t" text-anchor="middle">-0.50</text>
<text transform="translate(1153.90 971.80) scale(1 1.035)" class="t" text-anchor="middle">-0.30</text>
<text transform="translate(1292.40 971.80) scale(1 1.035)" class="t" text-anchor="middle">-0.10</text>
<text transform="translate(1430.90 971.80) scale(1 1.035)" class="t" text-anchor="middle">0.10</text>
<text transform="translate(1569.40 971.80) scale(1 1.035)" class="t" text-anchor="middle">0.30</text>
<text transform="translate(1707.90 971.80) scale(1 1.035)" class="t" text-anchor="middle">0.50</text>
<text transform="translate(1846.40 971.80) scale(1 1.035)" class="t" text-anchor="middle">0.70</text>
<path d="M827.8 897.9 L876.6 871.4 H1022.5 V924.4 H876.6 Z" fill="#053061"/>
<rect x="1022.02" y="871.4" width="24.74" height="53.0" fill="#0e4179"/>
<rect x="1046.26" y="871.4" width="24.74" height="53.0" fill="#185493"/>
<rect x="1070.50" y="871.4" width="24.74" height="53.0" fill="#2267ac"/>
<rect x="1094.74" y="871.4" width="24.74" height="53.0" fill="#2e77b5"/>
<rect x="1118.97" y="871.4" width="24.74" height="53.0" fill="#3a87bd"/>
<rect x="1143.21" y="871.4" width="24.74" height="53.0" fill="#4695c4"/>
<rect x="1167.45" y="871.4" width="24.74" height="53.0" fill="#62a7ce"/>
<rect x="1191.69" y="871.4" width="24.74" height="53.0" fill="#7eb8d7"/>
<rect x="1215.92" y="871.4" width="24.74" height="53.0" fill="#98c8e0"/>
<rect x="1240.16" y="871.4" width="24.74" height="53.0" fill="#aed3e6"/>
<rect x="1264.40" y="871.4" width="24.74" height="53.0" fill="#c5dfec"/>
<rect x="1288.64" y="871.4" width="24.74" height="53.0" fill="#d5e7f1"/>
<rect x="1312.87" y="871.4" width="24.74" height="53.0" fill="#e3edf3"/>
<rect x="1337.11" y="871.4" width="24.74" height="53.0" fill="#f0f4f6"/>
<rect x="1361.35" y="871.4" width="24.74" height="53.0" fill="#f8f2ef"/>
<rect x="1385.59" y="871.4" width="24.74" height="53.0" fill="#fae8de"/>
<rect x="1409.82" y="871.4" width="24.74" height="53.0" fill="#fcdecd"/>
<rect x="1434.06" y="871.4" width="24.74" height="53.0" fill="#fbd0b9"/>
<rect x="1458.30" y="871.4" width="24.74" height="53.0" fill="#f8bda1"/>
<rect x="1482.54" y="871.4" width="24.74" height="53.0" fill="#f5aa89"/>
<rect x="1506.77" y="871.4" width="24.74" height="53.0" fill="#ec9374"/>
<rect x="1531.01" y="871.4" width="24.74" height="53.0" fill="#e27b62"/>
<rect x="1555.25" y="871.4" width="24.74" height="53.0" fill="#d7634f"/>
<rect x="1579.49" y="871.4" width="24.74" height="53.0" fill="#cc4c44"/>
<rect x="1603.72" y="871.4" width="24.74" height="53.0" fill="#bf3338"/>
<rect x="1627.96" y="871.4" width="24.74" height="53.0" fill="#b3192c"/>
<rect x="1652.20" y="871.4" width="24.74" height="53.0" fill="#991027"/>
<rect x="1676.44" y="871.4" width="24.74" height="53.0" fill="#7f0823"/>
<path d="M1894.9 897.9 L1846.1 871.4 H1700.7 V924.4 H1846.1 Z" fill="#67001f"/>
<path d="M876.6 924.4 V908.9M1015.1 924.4 V908.9M1153.6 924.4 V908.9M1292.1 924.4 V908.9M1430.6 924.4 V908.9M1569.1 924.4 V908.9M1707.6 924.4 V908.9M1846.1 924.4 V908.9" stroke="#000" stroke-width="4.2" fill="none"/>
<path d="M827.8 897.9 L876.6 871.4 H1846.1 L1894.9 897.9 L1846.1 924.4 H876.6 Z" fill="none" stroke="#000" stroke-width="2.8" stroke-linejoin="miter"/>
<text transform="translate(1361.35 1016.80) scale(1 1.035)" class="t" text-anchor="middle">ΔT (°C)</text>
</svg>
</body></html>
